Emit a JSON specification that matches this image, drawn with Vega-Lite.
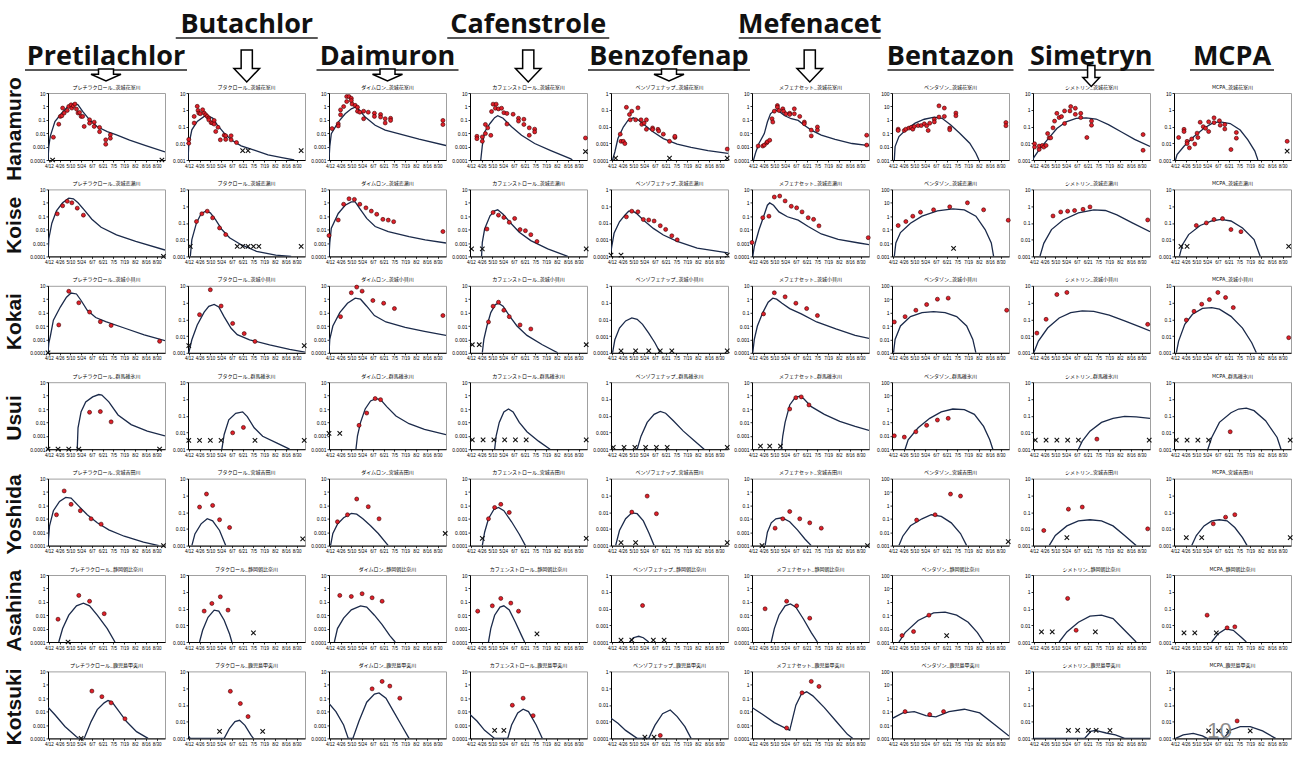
{
"$schema": "https://vega.github.io/schema/vega-lite/v6.json",
"padding": 0,
"background": "white",
"datasets": {
"heads": [{"name":"Pretilachlor","tier":"lower"},{"name":"Butachlor","tier":"upper"},{"name":"Daimuron","tier":"lower"},{"name":"Cafenstrole","tier":"upper"},{"name":"Benzofenap","tier":"lower"},{"name":"Mefenacet","tier":"upper"},{"name":"Bentazon","tier":"lower"},{"name":"Simetryn","tier":"lower"},{"name":"MCPA","tier":"lower"}],
"rivers": [{"name":"Hanamuro"},{"name":"Koise"},{"name":"Kokai"},{"name":"Usui"},{"name":"Yoshida"},{"name":"Asahina"},{"name":"Kotsuki"}],
"panels": [
{"p":11,"title":"プレチラクロール_茨城花室川"},{"p":12,"title":"プレチラクロール_茨城恋瀬川"},{"p":13,"title":"プレチラクロール_茨城小貝川"},{"p":14,"title":"プレチラクロール_群馬碓氷川"},{"p":15,"title":"プレチラクロール_宮城吉田川"},{"p":16,"title":"プレチラクロール_静岡朝比奈川"},{"p":17,"title":"プレチラクロール_鹿児島甲突川"},
{"p":21,"title":"ブタクロール_茨城花室川"},{"p":22,"title":"ブタクロール_茨城恋瀬川"},{"p":23,"title":"ブタクロール_茨城小貝川"},{"p":24,"title":"ブタクロール_群馬碓氷川"},{"p":25,"title":"ブタクロール_宮城吉田川"},{"p":26,"title":"ブタクロール_静岡朝比奈川"},{"p":27,"title":"ブタクロール_鹿児島甲突川"},
{"p":31,"title":"ダイムロン_茨城花室川"},{"p":32,"title":"ダイムロン_茨城恋瀬川"},{"p":33,"title":"ダイムロン_茨城小貝川"},{"p":34,"title":"ダイムロン_群馬碓氷川"},{"p":35,"title":"ダイムロン_宮城吉田川"},{"p":36,"title":"ダイムロン_静岡朝比奈川"},{"p":37,"title":"ダイムロン_鹿児島甲突川"},
{"p":41,"title":"カフェンストロール_茨城花室川"},{"p":42,"title":"カフェンストロール_茨城恋瀬川"},{"p":43,"title":"カフェンストロール_茨城小貝川"},{"p":44,"title":"カフェンストロール_群馬碓氷川"},{"p":45,"title":"カフェンストロール_宮城吉田川"},{"p":46,"title":"カフェンストロール_静岡朝比奈川"},{"p":47,"title":"カフェンストロール_鹿児島甲突川"},
{"p":51,"title":"ベンゾフェナップ_茨城花室川"},{"p":52,"title":"ベンゾフェナップ_茨城恋瀬川"},{"p":53,"title":"ベンゾフェナップ_茨城小貝川"},{"p":54,"title":"ベンゾフェナップ_群馬碓氷川"},{"p":55,"title":"ベンゾフェナップ_宮城吉田川"},{"p":56,"title":"ベンゾフェナップ_静岡朝比奈川"},{"p":57,"title":"ベンゾフェナップ_鹿児島甲突川"},
{"p":61,"title":"メフェナセット_茨城花室川"},{"p":62,"title":"メフェナセット_茨城恋瀬川"},{"p":63,"title":"メフェナセット_茨城小貝川"},{"p":64,"title":"メフェナセット_群馬碓氷川"},{"p":65,"title":"メフェナセット_宮城吉田川"},{"p":66,"title":"メフェナセット_静岡朝比奈川"},{"p":67,"title":"メフェナセット_鹿児島甲突川"},
{"p":71,"title":"ベンタゾン_茨城花室川"},{"p":72,"title":"ベンタゾン_茨城恋瀬川"},{"p":73,"title":"ベンタゾン_茨城小貝川"},{"p":74,"title":"ベンタゾン_群馬碓氷川"},{"p":75,"title":"ベンタゾン_宮城吉田川"},{"p":76,"title":"ベンタゾン_静岡朝比奈川"},{"p":77,"title":"ベンタゾン_鹿児島甲突川"},
{"p":81,"title":"シメトリン_茨城花室川"},{"p":82,"title":"シメトリン_茨城恋瀬川"},{"p":83,"title":"シメトリン_茨城小貝川"},{"p":84,"title":"シメトリン_群馬碓氷川"},{"p":85,"title":"シメトリン_宮城吉田川"},{"p":86,"title":"シメトリン_静岡朝比奈川"},{"p":87,"title":"シメトリン_鹿児島甲突川"},
{"p":91,"title":"MCPA_茨城花室川"},{"p":92,"title":"MCPA_茨城恋瀬川"},{"p":93,"title":"MCPA_茨城小貝川"},{"p":94,"title":"MCPA_群馬碓氷川"},{"p":95,"title":"MCPA_宮城吉田川"},{"p":96,"title":"MCPA_静岡朝比奈川"},{"p":97,"title":"MCPA_鹿児島甲突川"}
],
"obs": [
{"p":11,"t":"c","d":101,"v":0.0001},{"p":11,"t":"c","d":102,"v":0.001},{"p":11,"t":"c","d":104,"v":0.006},{"p":11,"t":"c","d":110,"v":0.075},{"p":11,"t":"c","d":119,"v":0.32},{"p":11,"t":"c","d":127,"v":1},{"p":11,"t":"c","d":136,"v":1.6},{"p":11,"t":"c","d":140,"v":1.3},{"p":11,"t":"c","d":146,"v":0.42},{"p":11,"t":"c","d":155,"v":0.1},{"p":11,"t":"c","d":165,"v":0.03},{"p":11,"t":"c","d":178,"v":0.013},{"p":11,"t":"c","d":190,"v":0.0075},{"p":11,"t":"c","d":207,"v":0.003},{"p":11,"t":"c","d":228,"v":0.0012},{"p":11,"t":"c","d":253,"v":0.0004},
{"p":11,"t":"d","d":108,"v":0.005},{"p":11,"t":"d","d":115,"v":0.047},{"p":11,"t":"d","d":117,"v":0.18},{"p":11,"t":"d","d":119,"v":0.2},{"p":11,"t":"d","d":120,"v":0.75},{"p":11,"t":"d","d":122,"v":0.32},{"p":11,"t":"d","d":126,"v":0.5},{"p":11,"t":"d","d":128,"v":1.0},{"p":11,"t":"d","d":131,"v":1.3},{"p":11,"t":"d","d":132,"v":0.75},{"p":11,"t":"d","d":134,"v":1.1},{"p":11,"t":"d","d":136,"v":1.5},{"p":11,"t":"d","d":138,"v":0.63},{"p":11,"t":"d","d":140,"v":0.32},{"p":11,"t":"d","d":142,"v":0.35},{"p":11,"t":"d","d":144,"v":0.18},{"p":11,"t":"d","d":146,"v":0.18},{"p":11,"t":"d","d":148,"v":0.032},{"p":11,"t":"d","d":155,"v":0.1},{"p":11,"t":"d","d":155,"v":0.056},{"p":11,"t":"d","d":161,"v":0.067},{"p":11,"t":"d","d":161,"v":0.032},{"p":11,"t":"d","d":168,"v":0.027},{"p":11,"t":"d","d":168,"v":0.013},{"p":11,"t":"d","d":176,"v":0.0032},{"p":11,"t":"d","d":176,"v":0.0015},{"p":11,"t":"d","d":182,"v":0.0075},{"p":11,"t":"d","d":182,"v":0.0042},
{"p":11,"t":"x","d":107,"v":0.0001},{"p":11,"t":"x","d":249,"v":0.0001},
{"p":21,"t":"c","d":101,"v":0.001},{"p":21,"t":"c","d":102,"v":0.008},{"p":21,"t":"c","d":106,"v":0.063},{"p":21,"t":"c","d":113,"v":0.2},{"p":21,"t":"c","d":122,"v":0.4},{"p":21,"t":"c","d":126,"v":0.44},{"p":21,"t":"c","d":133,"v":0.32},{"p":21,"t":"c","d":139,"v":0.126},{"p":21,"t":"c","d":148,"v":0.04},{"p":21,"t":"c","d":157,"v":0.016},{"p":21,"t":"c","d":170,"v":0.007},{"p":21,"t":"c","d":188,"v":0.0037},{"p":21,"t":"c","d":205,"v":0.002},{"p":21,"t":"c","d":223,"v":0.0014},{"p":21,"t":"c","d":239,"v":0.001},
{"p":21,"t":"d","d":102,"v":0.017},{"p":21,"t":"d","d":102,"v":0.01},{"p":21,"t":"d","d":109,"v":0.4},{"p":21,"t":"d","d":109,"v":0.16},{"p":21,"t":"d","d":113,"v":1.6},{"p":21,"t":"d","d":114,"v":0.91},{"p":21,"t":"d","d":115,"v":0.63},{"p":21,"t":"d","d":117,"v":0.58},{"p":21,"t":"d","d":120,"v":1.0},{"p":21,"t":"d","d":122,"v":0.63},{"p":21,"t":"d","d":124,"v":0.5},{"p":21,"t":"d","d":126,"v":0.4},{"p":21,"t":"d","d":128,"v":0.32},{"p":21,"t":"d","d":128,"v":0.25},{"p":21,"t":"d","d":131,"v":0.17},{"p":21,"t":"d","d":133,"v":0.16},{"p":21,"t":"d","d":135,"v":0.23},{"p":21,"t":"d","d":135,"v":0.14},{"p":21,"t":"d","d":137,"v":0.05},{"p":21,"t":"d","d":140,"v":0.09},{"p":21,"t":"d","d":143,"v":0.016},{"p":21,"t":"d","d":148,"v":0.03},{"p":21,"t":"d","d":150,"v":0.028},{"p":21,"t":"d","d":150,"v":0.017},{"p":21,"t":"d","d":157,"v":0.028},{"p":21,"t":"d","d":157,"v":0.016},{"p":21,"t":"d","d":164,"v":0.011},
{"p":21,"t":"x","d":172,"v":0.0036},{"p":21,"t":"x","d":179,"v":0.0036},{"p":21,"t":"x","d":248,"v":0.0036},
{"p":31,"t":"c","d":101,"v":0.0001},{"p":31,"t":"c","d":102,"v":0.001},{"p":31,"t":"c","d":104,"v":0.0093},{"p":31,"t":"c","d":113,"v":0.068},{"p":31,"t":"c","d":122,"v":0.28},{"p":31,"t":"c","d":130,"v":0.66},{"p":31,"t":"c","d":135,"v":0.87},{"p":31,"t":"c","d":139,"v":0.66},{"p":31,"t":"c","d":148,"v":0.16},{"p":31,"t":"c","d":161,"v":0.039},{"p":31,"t":"c","d":174,"v":0.017},{"p":31,"t":"c","d":196,"v":0.0078},{"p":31,"t":"c","d":218,"v":0.0036},{"p":31,"t":"c","d":253,"v":0.0012},
{"p":31,"t":"d","d":105,"v":0.022},{"p":31,"t":"d","d":113,"v":0.05},{"p":31,"t":"d","d":113,"v":0.035},{"p":31,"t":"d","d":116,"v":0.24},{"p":31,"t":"d","d":116,"v":0.55},{"p":31,"t":"d","d":120,"v":0.97},{"p":31,"t":"d","d":124,"v":5.4},{"p":31,"t":"d","d":124,"v":2.3},{"p":31,"t":"d","d":127,"v":5.4},{"p":31,"t":"d","d":130,"v":4},{"p":31,"t":"d","d":130,"v":2.7},{"p":31,"t":"d","d":131,"v":1.5},{"p":31,"t":"d","d":135,"v":1.2},{"p":31,"t":"d","d":138,"v":0.87},{"p":31,"t":"d","d":138,"v":0.44},{"p":31,"t":"d","d":141,"v":0.37},{"p":31,"t":"d","d":146,"v":0.12},{"p":31,"t":"d","d":146,"v":0.44},{"p":31,"t":"d","d":152,"v":0.37},{"p":31,"t":"d","d":160,"v":0.31},{"p":31,"t":"d","d":160,"v":0.18},{"p":31,"t":"d","d":168,"v":0.25},{"p":31,"t":"d","d":168,"v":0.16},{"p":31,"t":"d","d":174,"v":0.12},{"p":31,"t":"d","d":174,"v":0.058},{"p":31,"t":"d","d":181,"v":0.13},{"p":31,"t":"d","d":181,"v":0.09},{"p":31,"t":"d","d":249,"v":0.09},{"p":31,"t":"d","d":249,"v":0.044},
{"p":41,"t":"c","d":115,"v":0.0001},{"p":41,"t":"c","d":117,"v":0.0012},{"p":41,"t":"c","d":120,"v":0.0125},{"p":41,"t":"c","d":127,"v":0.053},{"p":41,"t":"c","d":133,"v":0.145},{"p":41,"t":"c","d":137,"v":0.2},{"p":41,"t":"c","d":144,"v":0.13},{"p":41,"t":"c","d":155,"v":0.03},{"p":41,"t":"c","d":168,"v":0.0071},{"p":41,"t":"c","d":185,"v":0.0017},{"p":41,"t":"c","d":206,"v":0.0005},{"p":41,"t":"c","d":232,"v":0.00012},{"p":41,"t":"c","d":234,"v":0.0001},
{"p":41,"t":"d","d":110,"v":0.0059},{"p":41,"t":"d","d":110,"v":0.0039},{"p":41,"t":"d","d":117,"v":0.0053},{"p":41,"t":"d","d":117,"v":0.0025},{"p":41,"t":"d","d":121,"v":0.0093},{"p":41,"t":"d","d":121,"v":0.045},{"p":41,"t":"d","d":124,"v":0.025},{"p":41,"t":"d","d":128,"v":0.0069},{"p":41,"t":"d","d":129,"v":0.41},{"p":41,"t":"d","d":131,"v":1.47},{"p":41,"t":"d","d":134,"v":0.73},{"p":41,"t":"d","d":135,"v":1.47},{"p":41,"t":"d","d":138,"v":0.65},{"p":41,"t":"d","d":142,"v":0.73},{"p":41,"t":"d","d":145,"v":0.34},{"p":41,"t":"d","d":149,"v":0.3},{"p":41,"t":"d","d":149,"v":0.048},{"p":41,"t":"d","d":157,"v":0.26},{"p":41,"t":"d","d":164,"v":0.13},{"p":41,"t":"d","d":164,"v":0.08},{"p":41,"t":"d","d":171,"v":0.11},{"p":41,"t":"d","d":171,"v":0.045},{"p":41,"t":"d","d":178,"v":0.025},{"p":41,"t":"d","d":178,"v":0.007},{"p":41,"t":"d","d":185,"v":0.02},{"p":41,"t":"d","d":185,"v":0.0125},{"p":41,"t":"d","d":251,"v":0.0044},
{"p":41,"t":"x","d":251,"v":0.00043},
{"p":51,"t":"c","d":103,"v":0.0001},{"p":51,"t":"c","d":106,"v":0.0003},{"p":51,"t":"c","d":110,"v":0.0019},{"p":51,"t":"c","d":117,"v":0.0093},{"p":51,"t":"c","d":123,"v":0.023},{"p":51,"t":"c","d":130,"v":0.033},{"p":51,"t":"c","d":136,"v":0.025},{"p":51,"t":"c","d":145,"v":0.0117},{"p":51,"t":"c","d":156,"v":0.0047},{"p":51,"t":"c","d":169,"v":0.0019},{"p":51,"t":"c","d":187,"v":0.00088},{"p":51,"t":"c","d":205,"v":0.00056},{"p":51,"t":"c","d":227,"v":0.00036},{"p":51,"t":"c","d":253,"v":0.00025},
{"p":51,"t":"d","d":113,"v":0.0035},{"p":51,"t":"d","d":114,"v":0.0013},{"p":51,"t":"d","d":117,"v":0.0013},{"p":51,"t":"d","d":119,"v":0.00095},{"p":51,"t":"d","d":121,"v":0.14},{"p":51,"t":"d","d":125,"v":0.052},{"p":51,"t":"d","d":126,"v":0.025},{"p":51,"t":"d","d":128,"v":0.082},{"p":51,"t":"d","d":133,"v":0.025},{"p":51,"t":"d","d":136,"v":0.13},{"p":51,"t":"d","d":140,"v":0.025},{"p":51,"t":"d","d":141,"v":0.0134},{"p":51,"t":"d","d":144,"v":0.016},{"p":51,"t":"d","d":147,"v":0.025},{"p":51,"t":"d","d":147,"v":0.0068},{"p":51,"t":"d","d":155,"v":0.0082},{"p":51,"t":"d","d":155,"v":0.0066},{"p":51,"t":"d","d":162,"v":0.0068},{"p":51,"t":"d","d":163,"v":0.0054},{"p":51,"t":"d","d":169,"v":0.0035},{"p":51,"t":"d","d":177,"v":0.0013},{"p":51,"t":"d","d":184,"v":0.0022},{"p":51,"t":"d","d":184,"v":0.0026},{"p":51,"t":"d","d":252,"v":0.00045},
{"p":51,"t":"x","d":107,"v":0.00013},{"p":51,"t":"x","d":177,"v":0.00013},{"p":51,"t":"x","d":252,"v":0.00013},
{"p":61,"t":"c","d":103,"v":0.0001},{"p":61,"t":"c","d":106,"v":0.0004},{"p":61,"t":"c","d":110,"v":0.0017},{"p":61,"t":"c","d":117,"v":0.0093},{"p":61,"t":"c","d":121,"v":0.068},{"p":61,"t":"c","d":125,"v":0.28},{"p":61,"t":"c","d":131,"v":0.55},{"p":61,"t":"c","d":136,"v":0.44},{"p":61,"t":"c","d":143,"v":0.21},{"p":61,"t":"c","d":152,"v":0.12},{"p":61,"t":"c","d":161,"v":0.09},{"p":61,"t":"c","d":169,"v":0.039},{"p":61,"t":"c","d":178,"v":0.017},{"p":61,"t":"c","d":191,"v":0.0071},{"p":61,"t":"c","d":209,"v":0.0034},{"p":61,"t":"c","d":231,"v":0.0017},{"p":61,"t":"c","d":253,"v":0.0012},
{"p":61,"t":"d","d":109,"v":0.0011},{"p":61,"t":"d","d":115,"v":0.0011},{"p":61,"t":"d","d":117,"v":0.0013},{"p":61,"t":"d","d":120,"v":0.0019},{"p":61,"t":"d","d":121,"v":0.0023},{"p":61,"t":"d","d":124,"v":0.003},{"p":61,"t":"d","d":127,"v":0.12},{"p":61,"t":"d","d":128,"v":0.068},{"p":61,"t":"d","d":130,"v":0.44},{"p":61,"t":"d","d":134,"v":1.16},{"p":61,"t":"d","d":134,"v":0.87},{"p":61,"t":"d","d":136,"v":0.5},{"p":61,"t":"d","d":141,"v":0.66},{"p":61,"t":"d","d":142,"v":0.44},{"p":61,"t":"d","d":145,"v":0.28},{"p":61,"t":"d","d":150,"v":0.31},{"p":61,"t":"d","d":150,"v":0.25},{"p":61,"t":"d","d":156,"v":0.66},{"p":61,"t":"d","d":156,"v":0.28},{"p":61,"t":"d","d":163,"v":0.18},{"p":61,"t":"d","d":169,"v":0.068},{"p":61,"t":"d","d":169,"v":0.051},{"p":61,"t":"d","d":178,"v":0.017},{"p":61,"t":"d","d":178,"v":0.0063},{"p":61,"t":"d","d":186,"v":0.029},{"p":61,"t":"d","d":186,"v":0.017},{"p":61,"t":"d","d":250,"v":0.0071},{"p":61,"t":"d","d":250,"v":0.0013},
{"p":71,"t":"c","d":104,"v":0.001},{"p":71,"t":"c","d":105,"v":0.01},{"p":71,"t":"c","d":110,"v":0.056},{"p":71,"t":"c","d":119,"v":0.18},{"p":71,"t":"c","d":131,"v":0.56},{"p":71,"t":"c","d":143,"v":1.1},{"p":71,"t":"c","d":156,"v":1.6},{"p":71,"t":"c","d":166,"v":1.3},{"p":71,"t":"c","d":177,"v":0.42},{"p":71,"t":"c","d":189,"v":0.1},{"p":71,"t":"c","d":202,"v":0.018},{"p":71,"t":"c","d":210,"v":0.0032},{"p":71,"t":"c","d":214,"v":0.001},
{"p":71,"t":"d","d":109,"v":0.2},{"p":71,"t":"d","d":109,"v":0.16},{"p":71,"t":"d","d":117,"v":0.16},{"p":71,"t":"d","d":119,"v":0.2},{"p":71,"t":"d","d":123,"v":0.24},{"p":71,"t":"d","d":126,"v":0.27},{"p":71,"t":"d","d":128,"v":0.2},{"p":71,"t":"d","d":130,"v":0.32},{"p":71,"t":"d","d":135,"v":0.37},{"p":71,"t":"d","d":139,"v":0.37},{"p":71,"t":"d","d":143,"v":0.5},{"p":71,"t":"d","d":146,"v":0.36},{"p":71,"t":"d","d":148,"v":0.16},{"p":71,"t":"d","d":150,"v":0.56},{"p":71,"t":"d","d":156,"v":1.1},{"p":71,"t":"d","d":156,"v":0.7},{"p":71,"t":"d","d":162,"v":11},{"p":71,"t":"d","d":162,"v":1.6},{"p":71,"t":"d","d":169,"v":7.5},{"p":71,"t":"d","d":169,"v":1.8},{"p":71,"t":"d","d":176,"v":0.24},{"p":71,"t":"d","d":176,"v":0.18},{"p":71,"t":"d","d":184,"v":3.2},{"p":71,"t":"d","d":184,"v":2},{"p":71,"t":"d","d":249,"v":0.63},{"p":71,"t":"d","d":249,"v":0.36},
{"p":81,"t":"c","d":101,"v":0.001},{"p":81,"t":"c","d":102,"v":0.0014},{"p":81,"t":"c","d":110,"v":0.0047},{"p":81,"t":"c","d":119,"v":0.015},{"p":81,"t":"c","d":132,"v":0.076},{"p":81,"t":"c","d":144,"v":0.19},{"p":81,"t":"c","d":157,"v":0.31},{"p":81,"t":"c","d":170,"v":0.33},{"p":81,"t":"c","d":183,"v":0.28},{"p":81,"t":"c","d":199,"v":0.13},{"p":81,"t":"c","d":216,"v":0.047},{"p":81,"t":"c","d":233,"v":0.017},{"p":81,"t":"c","d":253,"v":0.0065},
{"p":81,"t":"d","d":103,"v":0.0093},{"p":81,"t":"d","d":103,"v":0.0059},{"p":81,"t":"d","d":109,"v":0.0043},{"p":81,"t":"d","d":109,"v":0.0068},{"p":81,"t":"d","d":113,"v":0.0074},{"p":81,"t":"d","d":115,"v":0.0059},{"p":81,"t":"d","d":118,"v":0.0074},{"p":81,"t":"d","d":120,"v":0.038},{"p":81,"t":"d","d":122,"v":0.021},{"p":81,"t":"d","d":124,"v":0.021},{"p":81,"t":"d","d":127,"v":0.083},{"p":81,"t":"d","d":129,"v":0.21},{"p":81,"t":"d","d":132,"v":0.61},{"p":81,"t":"d","d":135,"v":0.34},{"p":81,"t":"d","d":138,"v":0.39},{"p":81,"t":"d","d":142,"v":0.15},{"p":81,"t":"d","d":142,"v":0.85},{"p":81,"t":"d","d":149,"v":0.85},{"p":81,"t":"d","d":150,"v":1.55},{"p":81,"t":"d","d":156,"v":1.23},{"p":81,"t":"d","d":156,"v":0.53},{"p":81,"t":"d","d":163,"v":0.61},{"p":81,"t":"d","d":163,"v":0.34},{"p":81,"t":"d","d":171,"v":0.022},{"p":81,"t":"d","d":177,"v":0.21},{"p":81,"t":"d","d":177,"v":0.12},{"p":81,"t":"d","d":244,"v":0.033},{"p":81,"t":"d","d":244,"v":0.0038},
{"p":91,"t":"c","d":103,"v":0.001},{"p":91,"t":"c","d":105,"v":0.0021},{"p":91,"t":"c","d":114,"v":0.0066},{"p":91,"t":"c","d":127,"v":0.025},{"p":91,"t":"c","d":140,"v":0.078},{"p":91,"t":"c","d":152,"v":0.17},{"p":91,"t":"c","d":161,"v":0.19},{"p":91,"t":"c","d":174,"v":0.15},{"p":91,"t":"c","d":187,"v":0.062},{"p":91,"t":"c","d":197,"v":0.016},{"p":91,"t":"c","d":206,"v":0.0034},{"p":91,"t":"c","d":210,"v":0.001},
{"p":91,"t":"d","d":107,"v":0.022},{"p":91,"t":"d","d":114,"v":0.068},{"p":91,"t":"d","d":114,"v":0.05},{"p":91,"t":"d","d":118,"v":0.013},{"p":91,"t":"d","d":118,"v":0.0095},{"p":91,"t":"d","d":121,"v":0.0053},{"p":91,"t":"d","d":124,"v":0.018},{"p":91,"t":"d","d":128,"v":0.009},{"p":91,"t":"d","d":131,"v":0.04},{"p":91,"t":"d","d":132,"v":0.022},{"p":91,"t":"d","d":135,"v":0.18},{"p":91,"t":"d","d":139,"v":0.098},{"p":91,"t":"d","d":142,"v":0.078},{"p":91,"t":"d","d":146,"v":0.05},{"p":91,"t":"d","d":146,"v":0.19},{"p":91,"t":"d","d":153,"v":0.33},{"p":91,"t":"d","d":153,"v":0.17},{"p":91,"t":"d","d":160,"v":0.22},{"p":91,"t":"d","d":161,"v":0.12},{"p":91,"t":"d","d":167,"v":0.13},{"p":91,"t":"d","d":167,"v":0.071},{"p":91,"t":"d","d":175,"v":0.0042},{"p":91,"t":"d","d":182,"v":0.044},{"p":91,"t":"d","d":182,"v":0.02},{"p":91,"t":"d","d":248,"v":0.013},
{"p":91,"t":"x","d":248,"v":0.0034},
{"p":12,"t":"c","d":101,"v":0.0001},{"p":12,"t":"c","d":102,"v":0.002},{"p":12,"t":"c","d":106,"v":0.03},{"p":12,"t":"c","d":112,"v":0.25},{"p":12,"t":"c","d":120,"v":1.0},{"p":12,"t":"c","d":128,"v":2.2},{"p":12,"t":"c","d":134,"v":2.0},{"p":12,"t":"c","d":140,"v":1.0},{"p":12,"t":"c","d":148,"v":0.3},{"p":12,"t":"c","d":158,"v":0.06},{"p":12,"t":"c","d":170,"v":0.015},{"p":12,"t":"c","d":190,"v":0.004},{"p":12,"t":"c","d":215,"v":0.0013},{"p":12,"t":"c","d":253,"v":0.0003},
{"p":12,"t":"d","d":113,"v":0.15},{"p":12,"t":"d","d":120,"v":0.6},{"p":12,"t":"d","d":126,"v":1.3},{"p":12,"t":"d","d":132,"v":1.0},{"p":12,"t":"d","d":139,"v":0.4},{"p":12,"t":"d","d":147,"v":0.12},
{"p":12,"t":"x","d":251,"v":0.0001},
{"p":22,"t":"c","d":104,"v":0.001},{"p":22,"t":"c","d":106,"v":0.01},{"p":22,"t":"c","d":112,"v":0.1},{"p":22,"t":"c","d":118,"v":0.35},{"p":22,"t":"c","d":124,"v":0.5},{"p":22,"t":"c","d":130,"v":0.4},{"p":22,"t":"c","d":137,"v":0.15},{"p":22,"t":"c","d":145,"v":0.04},{"p":22,"t":"c","d":155,"v":0.013},{"p":22,"t":"c","d":170,"v":0.005},{"p":22,"t":"c","d":190,"v":0.002},{"p":22,"t":"c","d":215,"v":0.0012},{"p":22,"t":"c","d":235,"v":0.001},
{"p":22,"t":"d","d":112,"v":0.12},{"p":22,"t":"d","d":119,"v":0.35},{"p":22,"t":"d","d":126,"v":0.5},{"p":22,"t":"d","d":133,"v":0.2},{"p":22,"t":"d","d":142,"v":0.05},{"p":22,"t":"d","d":150,"v":0.02},
{"p":22,"t":"x","d":104,"v":0.004},{"p":22,"t":"x","d":165,"v":0.004},{"p":22,"t":"x","d":172,"v":0.004},{"p":22,"t":"x","d":179,"v":0.004},{"p":22,"t":"x","d":186,"v":0.004},{"p":22,"t":"x","d":193,"v":0.004},{"p":22,"t":"x","d":248,"v":0.004},
{"p":32,"t":"c","d":101,"v":0.0001},{"p":32,"t":"c","d":102,"v":0.001},{"p":32,"t":"c","d":104,"v":0.0125},{"p":32,"t":"c","d":113,"v":0.16},{"p":32,"t":"c","d":122,"v":0.66},{"p":32,"t":"c","d":130,"v":1.16},{"p":32,"t":"c","d":135,"v":1.16},{"p":32,"t":"c","d":141,"v":0.37},{"p":32,"t":"c","d":150,"v":0.068},{"p":32,"t":"c","d":161,"v":0.017},{"p":32,"t":"c","d":178,"v":0.0071},{"p":32,"t":"c","d":205,"v":0.003},{"p":32,"t":"c","d":226,"v":0.0017},{"p":32,"t":"c","d":253,"v":0.001},
{"p":32,"t":"d","d":101,"v":0.0036},{"p":32,"t":"d","d":113,"v":0.052},{"p":32,"t":"d","d":120,"v":0.78},{"p":32,"t":"d","d":127,"v":2.0},{"p":32,"t":"d","d":134,"v":1.8},{"p":32,"t":"d","d":141,"v":0.78},{"p":32,"t":"d","d":149,"v":0.42},{"p":32,"t":"d","d":156,"v":0.24},{"p":32,"t":"d","d":163,"v":0.14},{"p":32,"t":"d","d":171,"v":0.058},{"p":32,"t":"d","d":178,"v":0.051},{"p":32,"t":"d","d":185,"v":0.039},{"p":32,"t":"d","d":249,"v":0.0071},
{"p":42,"t":"c","d":116,"v":0.0001},{"p":42,"t":"c","d":117,"v":0.0011},{"p":42,"t":"c","d":120,"v":0.011},{"p":42,"t":"c","d":127,"v":0.107},{"p":42,"t":"c","d":133,"v":0.25},{"p":42,"t":"c","d":137,"v":0.3},{"p":42,"t":"c","d":144,"v":0.14},{"p":42,"t":"c","d":155,"v":0.026},{"p":42,"t":"c","d":165,"v":0.0063},{"p":42,"t":"c","d":180,"v":0.0015},{"p":42,"t":"c","d":202,"v":0.00037},{"p":42,"t":"c","d":228,"v":0.0001},
{"p":42,"t":"d","d":123,"v":0.011},{"p":42,"t":"d","d":131,"v":0.19},{"p":42,"t":"d","d":138,"v":0.12},{"p":42,"t":"d","d":145,"v":0.081},{"p":42,"t":"d","d":152,"v":0.035},{"p":42,"t":"d","d":159,"v":0.068},{"p":42,"t":"d","d":166,"v":0.01},{"p":42,"t":"d","d":173,"v":0.0083},{"p":42,"t":"d","d":180,"v":0.0042},{"p":42,"t":"d","d":188,"v":0.0013},
{"p":42,"t":"x","d":103,"v":0.00037},{"p":42,"t":"x","d":117,"v":0.00037},{"p":42,"t":"x","d":252,"v":0.00037},
{"p":52,"t":"c","d":101,"v":0.0002},{"p":52,"t":"c","d":102,"v":0.00039},{"p":52,"t":"c","d":105,"v":0.0024},{"p":52,"t":"c","d":112,"v":0.0117},{"p":52,"t":"c","d":119,"v":0.029},{"p":52,"t":"c","d":124,"v":0.05},{"p":52,"t":"c","d":129,"v":0.052},{"p":52,"t":"c","d":134,"v":0.037},{"p":52,"t":"c","d":143,"v":0.015},{"p":52,"t":"c","d":156,"v":0.0047},{"p":52,"t":"c","d":169,"v":0.0019},{"p":52,"t":"c","d":187,"v":0.00078},{"p":52,"t":"c","d":213,"v":0.00031},{"p":52,"t":"c","d":253,"v":0.00016},
{"p":52,"t":"d","d":121,"v":0.023},{"p":52,"t":"d","d":128,"v":0.05},{"p":52,"t":"d","d":136,"v":0.046},{"p":52,"t":"d","d":143,"v":0.016},{"p":52,"t":"d","d":150,"v":0.015},{"p":52,"t":"d","d":157,"v":0.013},{"p":52,"t":"d","d":165,"v":0.0068},{"p":52,"t":"d","d":172,"v":0.0041},{"p":52,"t":"d","d":180,"v":0.0017},{"p":52,"t":"d","d":187,"v":0.00097},
{"p":52,"t":"x","d":101,"v":0.00012},{"p":52,"t":"x","d":114,"v":0.00012},{"p":52,"t":"x","d":252,"v":0.00012},
{"p":62,"t":"c","d":102,"v":0.0001},{"p":62,"t":"c","d":104,"v":0.00055},{"p":62,"t":"c","d":110,"v":0.0093},{"p":62,"t":"c","d":116,"v":0.091},{"p":62,"t":"c","d":121,"v":0.66},{"p":62,"t":"c","d":124,"v":0.98},{"p":62,"t":"c","d":129,"v":0.66},{"p":62,"t":"c","d":136,"v":0.21},{"p":62,"t":"c","d":147,"v":0.091},{"p":62,"t":"c","d":161,"v":0.051},{"p":62,"t":"c","d":174,"v":0.017},{"p":62,"t":"c","d":191,"v":0.0047},{"p":62,"t":"c","d":213,"v":0.0019},{"p":62,"t":"c","d":240,"v":0.001},{"p":62,"t":"c","d":253,"v":0.00075},
{"p":62,"t":"d","d":101,"v":0.0011},{"p":62,"t":"d","d":115,"v":0.077},{"p":62,"t":"d","d":123,"v":0.1},{"p":62,"t":"d","d":130,"v":2.7},{"p":62,"t":"d","d":137,"v":3.2},{"p":62,"t":"d","d":144,"v":1.38},{"p":62,"t":"d","d":152,"v":0.55},{"p":62,"t":"d","d":159,"v":0.42},{"p":62,"t":"d","d":166,"v":0.21},{"p":62,"t":"d","d":174,"v":0.077},{"p":62,"t":"d","d":181,"v":0.058},{"p":62,"t":"d","d":188,"v":0.019},{"p":62,"t":"d","d":252,"v":0.0025},
{"p":72,"t":"c","d":104,"v":0.001},{"p":72,"t":"c","d":106,"v":0.01},{"p":72,"t":"c","d":112,"v":0.06},{"p":72,"t":"c","d":125,"v":0.3},{"p":72,"t":"c","d":140,"v":1},{"p":72,"t":"c","d":160,"v":2.5},{"p":72,"t":"c","d":180,"v":3.5},{"p":72,"t":"c","d":195,"v":3},{"p":72,"t":"c","d":210,"v":1},{"p":72,"t":"c","d":222,"v":0.1},{"p":72,"t":"c","d":230,"v":0.01},{"p":72,"t":"c","d":233,"v":0.001},
{"p":72,"t":"d","d":109,"v":0.2},{"p":72,"t":"d","d":119,"v":0.4},{"p":72,"t":"d","d":128,"v":1},{"p":72,"t":"d","d":138,"v":2},{"p":72,"t":"d","d":155,"v":3},{"p":72,"t":"d","d":176,"v":5},{"p":72,"t":"d","d":199,"v":10},{"p":72,"t":"d","d":220,"v":3},{"p":72,"t":"d","d":252,"v":0.5},
{"p":72,"t":"x","d":181,"v":0.004},
{"p":82,"t":"c","d":110,"v":0.001},{"p":82,"t":"c","d":115,"v":0.006},{"p":82,"t":"c","d":125,"v":0.04},{"p":82,"t":"c","d":140,"v":0.15},{"p":82,"t":"c","d":160,"v":0.4},{"p":82,"t":"c","d":180,"v":0.6},{"p":82,"t":"c","d":195,"v":0.55},{"p":82,"t":"c","d":210,"v":0.3},{"p":82,"t":"c","d":230,"v":0.1},{"p":82,"t":"c","d":253,"v":0.03},
{"p":82,"t":"d","d":127,"v":0.26},{"p":82,"t":"d","d":137,"v":0.45},{"p":82,"t":"d","d":146,"v":0.5},{"p":82,"t":"d","d":155,"v":0.55},{"p":82,"t":"d","d":166,"v":0.65},{"p":82,"t":"d","d":175,"v":0.9},{"p":82,"t":"d","d":250,"v":0.15},
{"p":92,"t":"c","d":108,"v":0.001},{"p":92,"t":"c","d":112,"v":0.005},{"p":92,"t":"c","d":120,"v":0.02},{"p":92,"t":"c","d":135,"v":0.07},{"p":92,"t":"c","d":150,"v":0.13},{"p":92,"t":"c","d":162,"v":0.16},{"p":92,"t":"c","d":175,"v":0.13},{"p":92,"t":"c","d":190,"v":0.05},{"p":92,"t":"c","d":205,"v":0.01},{"p":92,"t":"c","d":213,"v":0.001},
{"p":92,"t":"d","d":130,"v":0.07},{"p":92,"t":"d","d":143,"v":0.1},{"p":92,"t":"d","d":153,"v":0.16},{"p":92,"t":"d","d":164,"v":0.18},{"p":92,"t":"d","d":175,"v":0.04},{"p":92,"t":"d","d":188,"v":0.03},
{"p":92,"t":"x","d":110,"v":0.004},{"p":92,"t":"x","d":118,"v":0.004},{"p":92,"t":"x","d":250,"v":0.004},
{"p":13,"t":"c","d":101,"v":0.0001},{"p":13,"t":"c","d":102,"v":0.0005},{"p":13,"t":"c","d":104,"v":0.0017},{"p":13,"t":"c","d":108,"v":0.027},{"p":13,"t":"c","d":117,"v":0.26},{"p":13,"t":"c","d":125,"v":1.4},{"p":13,"t":"c","d":131,"v":2.9},{"p":13,"t":"c","d":138,"v":2.45},{"p":13,"t":"c","d":144,"v":0.8},{"p":13,"t":"c","d":152,"v":0.15},{"p":13,"t":"c","d":163,"v":0.043},{"p":13,"t":"c","d":176,"v":0.021},{"p":13,"t":"c","d":201,"v":0.0068},{"p":13,"t":"c","d":226,"v":0.0022},{"p":13,"t":"c","d":253,"v":0.0008},
{"p":13,"t":"d","d":115,"v":0.012},{"p":13,"t":"d","d":128,"v":3.9},{"p":13,"t":"d","d":141,"v":0.54},{"p":13,"t":"d","d":155,"v":0.11},{"p":13,"t":"d","d":169,"v":0.021},{"p":13,"t":"d","d":183,"v":0.011},{"p":13,"t":"d","d":246,"v":0.00072},
{"p":13,"t":"x","d":101,"v":0.0001},
{"p":23,"t":"c","d":102,"v":0.001},{"p":23,"t":"c","d":106,"v":0.006},{"p":23,"t":"c","d":113,"v":0.046},{"p":23,"t":"c","d":122,"v":0.27},{"p":23,"t":"c","d":128,"v":0.59},{"p":23,"t":"c","d":135,"v":0.77},{"p":23,"t":"c","d":141,"v":0.54},{"p":23,"t":"c","d":148,"v":0.14},{"p":23,"t":"c","d":157,"v":0.029},{"p":23,"t":"c","d":165,"v":0.012},{"p":23,"t":"c","d":181,"v":0.006},{"p":23,"t":"c","d":207,"v":0.003},{"p":23,"t":"c","d":233,"v":0.0016},{"p":23,"t":"c","d":253,"v":0.0011},
{"p":23,"t":"d","d":116,"v":0.19},{"p":23,"t":"d","d":130,"v":5.8},{"p":23,"t":"d","d":144,"v":0.62},{"p":23,"t":"d","d":159,"v":0.057},{"p":23,"t":"d","d":174,"v":0.014},{"p":23,"t":"d","d":188,"v":0.0048},
{"p":23,"t":"x","d":102,"v":0.0027},{"p":23,"t":"x","d":252,"v":0.0027},
{"p":33,"t":"c","d":101,"v":0.0001},{"p":33,"t":"c","d":102,"v":0.001},{"p":33,"t":"c","d":106,"v":0.01},{"p":33,"t":"c","d":115,"v":0.1},{"p":33,"t":"c","d":125,"v":0.5},{"p":33,"t":"c","d":135,"v":1.2},{"p":33,"t":"c","d":142,"v":1.0},{"p":33,"t":"c","d":150,"v":0.3},{"p":33,"t":"c","d":160,"v":0.06},{"p":33,"t":"c","d":175,"v":0.02},{"p":33,"t":"c","d":200,"v":0.008},{"p":33,"t":"c","d":225,"v":0.004},{"p":33,"t":"c","d":253,"v":0.002},
{"p":33,"t":"d","d":116,"v":0.05},{"p":33,"t":"d","d":130,"v":3},{"p":33,"t":"d","d":137,"v":8},{"p":33,"t":"d","d":144,"v":4},{"p":33,"t":"d","d":158,"v":0.8},{"p":33,"t":"d","d":172,"v":0.5},{"p":33,"t":"d","d":186,"v":0.2},{"p":33,"t":"d","d":249,"v":0.06},
{"p":43,"t":"c","d":117,"v":0.0001},{"p":43,"t":"c","d":119,"v":0.001},{"p":43,"t":"c","d":123,"v":0.01},{"p":43,"t":"c","d":128,"v":0.1},{"p":43,"t":"c","d":134,"v":0.4},{"p":43,"t":"c","d":138,"v":0.5},{"p":43,"t":"c","d":144,"v":0.3},{"p":43,"t":"c","d":152,"v":0.06},{"p":43,"t":"c","d":162,"v":0.01},{"p":43,"t":"c","d":175,"v":0.002},{"p":43,"t":"c","d":195,"v":0.0004},{"p":43,"t":"c","d":215,"v":0.0001},
{"p":43,"t":"d","d":125,"v":0.02},{"p":43,"t":"d","d":131,"v":0.3},{"p":43,"t":"d","d":138,"v":0.6},{"p":43,"t":"d","d":145,"v":0.15},{"p":43,"t":"d","d":152,"v":0.05},{"p":43,"t":"d","d":166,"v":0.012},{"p":43,"t":"d","d":180,"v":0.006},
{"p":43,"t":"x","d":104,"v":0.0004},{"p":43,"t":"x","d":113,"v":0.0004},{"p":43,"t":"x","d":252,"v":0.0004},
{"p":53,"t":"c","d":103,"v":0.0001},{"p":53,"t":"c","d":106,"v":0.0006},{"p":53,"t":"c","d":112,"v":0.003},{"p":53,"t":"c","d":120,"v":0.008},{"p":53,"t":"c","d":128,"v":0.012},{"p":53,"t":"c","d":135,"v":0.01},{"p":53,"t":"c","d":142,"v":0.005},{"p":53,"t":"c","d":150,"v":0.0015},{"p":53,"t":"c","d":158,"v":0.0004},{"p":53,"t":"c","d":165,"v":0.0001},
{"p":53,"t":"x","d":114,"v":0.00013},{"p":53,"t":"x","d":133,"v":0.00013},{"p":53,"t":"x","d":150,"v":0.00013},{"p":53,"t":"x","d":165,"v":0.00013},{"p":53,"t":"x","d":180,"v":0.00013},{"p":53,"t":"x","d":252,"v":0.00013},
{"p":63,"t":"c","d":102,"v":0.0001},{"p":63,"t":"c","d":104,"v":0.001},{"p":63,"t":"c","d":108,"v":0.01},{"p":63,"t":"c","d":115,"v":0.1},{"p":63,"t":"c","d":122,"v":0.6},{"p":63,"t":"c","d":128,"v":1.2},{"p":63,"t":"c","d":133,"v":1.0},{"p":63,"t":"c","d":140,"v":0.5},{"p":63,"t":"c","d":150,"v":0.2},{"p":63,"t":"c","d":165,"v":0.08},{"p":63,"t":"c","d":185,"v":0.02},{"p":63,"t":"c","d":210,"v":0.006},{"p":63,"t":"c","d":235,"v":0.002},{"p":63,"t":"c","d":253,"v":0.0012},
{"p":63,"t":"d","d":116,"v":0.08},{"p":63,"t":"d","d":130,"v":3},{"p":63,"t":"d","d":144,"v":1.5},{"p":63,"t":"d","d":158,"v":0.5},{"p":63,"t":"d","d":172,"v":0.2},{"p":63,"t":"d","d":186,"v":0.06},
{"p":73,"t":"c","d":103,"v":0.001},{"p":73,"t":"c","d":105,"v":0.01},{"p":73,"t":"c","d":112,"v":0.1},{"p":73,"t":"c","d":125,"v":0.5},{"p":73,"t":"c","d":140,"v":1.0},{"p":73,"t":"c","d":155,"v":1.2},{"p":73,"t":"c","d":170,"v":1.0},{"p":73,"t":"c","d":185,"v":0.5},{"p":73,"t":"c","d":198,"v":0.1},{"p":73,"t":"c","d":206,"v":0.01},{"p":73,"t":"c","d":210,"v":0.001},
{"p":73,"t":"d","d":104,"v":0.2},{"p":73,"t":"d","d":118,"v":0.5},{"p":73,"t":"d","d":132,"v":1.5},{"p":73,"t":"d","d":146,"v":4},{"p":73,"t":"d","d":160,"v":10},{"p":73,"t":"d","d":174,"v":12},{"p":73,"t":"d","d":250,"v":1.5},
{"p":83,"t":"c","d":102,"v":0.001},{"p":83,"t":"c","d":108,"v":0.005},{"p":83,"t":"c","d":120,"v":0.03},{"p":83,"t":"c","d":135,"v":0.12},{"p":83,"t":"c","d":150,"v":0.25},{"p":83,"t":"c","d":165,"v":0.32},{"p":83,"t":"c","d":180,"v":0.3},{"p":83,"t":"c","d":200,"v":0.18},{"p":83,"t":"c","d":220,"v":0.08},{"p":83,"t":"c","d":240,"v":0.035},{"p":83,"t":"c","d":253,"v":0.02},
{"p":83,"t":"d","d":106,"v":0.015},{"p":83,"t":"d","d":118,"v":0.1},{"p":83,"t":"d","d":132,"v":3},{"p":83,"t":"d","d":145,"v":4},{"p":83,"t":"d","d":250,"v":0.05},
{"p":93,"t":"c","d":104,"v":0.001},{"p":93,"t":"c","d":107,"v":0.005},{"p":93,"t":"c","d":115,"v":0.05},{"p":93,"t":"c","d":125,"v":0.2},{"p":93,"t":"c","d":138,"v":0.45},{"p":93,"t":"c","d":150,"v":0.5},{"p":93,"t":"c","d":160,"v":0.4},{"p":93,"t":"c","d":175,"v":0.15},{"p":93,"t":"c","d":190,"v":0.03},{"p":93,"t":"c","d":202,"v":0.004},{"p":93,"t":"c","d":208,"v":0.001},
{"p":93,"t":"d","d":117,"v":0.09},{"p":93,"t":"d","d":127,"v":0.3},{"p":93,"t":"d","d":137,"v":0.8},{"p":93,"t":"d","d":147,"v":1.5},{"p":93,"t":"d","d":158,"v":4},{"p":93,"t":"d","d":168,"v":2},{"p":93,"t":"d","d":178,"v":0.5},{"p":93,"t":"d","d":250,"v":0.008},
{"p":14,"t":"c","d":139,"v":0.0001},{"p":14,"t":"c","d":140,"v":0.0039},{"p":14,"t":"c","d":144,"v":0.064},{"p":14,"t":"c","d":150,"v":0.34},{"p":14,"t":"c","d":159,"v":0.8},{"p":14,"t":"c","d":167,"v":1.2},{"p":14,"t":"c","d":171,"v":1.1},{"p":14,"t":"c","d":180,"v":0.34},{"p":14,"t":"c","d":192,"v":0.036},{"p":14,"t":"c","d":209,"v":0.0068},{"p":14,"t":"c","d":230,"v":0.0022},{"p":14,"t":"c","d":253,"v":0.001},
{"p":14,"t":"d","d":155,"v":0.057},{"p":14,"t":"d","d":169,"v":0.064},{"p":14,"t":"d","d":183,"v":0.011},
{"p":14,"t":"x","d":101,"v":0.0001},{"p":14,"t":"x","d":114,"v":0.0001},{"p":14,"t":"x","d":128,"v":0.0001},{"p":14,"t":"x","d":141,"v":0.0001},{"p":14,"t":"x","d":246,"v":0.0001},
{"p":24,"t":"c","d":145,"v":0.001},{"p":24,"t":"c","d":148,"v":0.0076},{"p":24,"t":"c","d":154,"v":0.057},{"p":24,"t":"c","d":163,"v":0.14},{"p":24,"t":"c","d":172,"v":0.17},{"p":24,"t":"c","d":178,"v":0.089},{"p":24,"t":"c","d":187,"v":0.019},{"p":24,"t":"c","d":198,"v":0.0059},{"p":24,"t":"c","d":216,"v":0.0024},{"p":24,"t":"c","d":233,"v":0.001},
{"p":24,"t":"d","d":159,"v":0.0095},{"p":24,"t":"d","d":173,"v":0.02},
{"p":24,"t":"x","d":102,"v":0.0034},{"p":24,"t":"x","d":116,"v":0.0034},{"p":24,"t":"x","d":130,"v":0.0034},{"p":24,"t":"x","d":144,"v":0.0034},{"p":24,"t":"x","d":188,"v":0.0034},{"p":24,"t":"x","d":252,"v":0.0034},
{"p":34,"t":"c","d":136,"v":0.0001},{"p":34,"t":"c","d":138,"v":0.001},{"p":34,"t":"c","d":142,"v":0.01},{"p":34,"t":"c","d":148,"v":0.1},{"p":34,"t":"c","d":155,"v":0.4},{"p":34,"t":"c","d":162,"v":0.6},{"p":34,"t":"c","d":168,"v":0.5},{"p":34,"t":"c","d":176,"v":0.15},{"p":34,"t":"c","d":188,"v":0.03},{"p":34,"t":"c","d":205,"v":0.008},{"p":34,"t":"c","d":225,"v":0.003},{"p":34,"t":"c","d":253,"v":0.0012},
{"p":34,"t":"d","d":140,"v":0.006},{"p":34,"t":"d","d":150,"v":0.05},{"p":34,"t":"d","d":161,"v":0.6},{"p":34,"t":"d","d":168,"v":0.5},
{"p":34,"t":"x","d":101,"v":0.0015},{"p":34,"t":"x","d":115,"v":0.0015},
{"p":44,"t":"c","d":133,"v":0.0001},{"p":44,"t":"c","d":135,"v":0.001},{"p":44,"t":"c","d":139,"v":0.01},{"p":44,"t":"c","d":145,"v":0.06},{"p":44,"t":"c","d":151,"v":0.1},{"p":44,"t":"c","d":157,"v":0.06},{"p":44,"t":"c","d":165,"v":0.01},{"p":44,"t":"c","d":175,"v":0.002},{"p":44,"t":"c","d":190,"v":0.0004},{"p":44,"t":"c","d":205,"v":0.0001},
{"p":44,"t":"x","d":104,"v":0.0005},{"p":44,"t":"x","d":118,"v":0.0005},{"p":44,"t":"x","d":132,"v":0.0005},{"p":44,"t":"x","d":146,"v":0.0005},{"p":44,"t":"x","d":160,"v":0.0005},{"p":44,"t":"x","d":174,"v":0.0005},{"p":44,"t":"x","d":252,"v":0.0005},
{"p":54,"t":"c","d":135,"v":0.0001},{"p":54,"t":"c","d":140,"v":0.0006},{"p":54,"t":"c","d":148,"v":0.004},{"p":54,"t":"c","d":157,"v":0.012},{"p":54,"t":"c","d":165,"v":0.018},{"p":54,"t":"c","d":172,"v":0.014},{"p":54,"t":"c","d":182,"v":0.005},{"p":54,"t":"c","d":195,"v":0.0012},{"p":54,"t":"c","d":210,"v":0.0003},{"p":54,"t":"c","d":222,"v":0.0001},
{"p":54,"t":"x","d":104,"v":0.00013},{"p":54,"t":"x","d":118,"v":0.00013},{"p":54,"t":"x","d":132,"v":0.00013},{"p":54,"t":"x","d":146,"v":0.00013},{"p":54,"t":"x","d":160,"v":0.00013},{"p":54,"t":"x","d":174,"v":0.00013},{"p":54,"t":"x","d":252,"v":0.00013},
{"p":64,"t":"c","d":139,"v":0.0001},{"p":64,"t":"c","d":141,"v":0.001},{"p":64,"t":"c","d":144,"v":0.01},{"p":64,"t":"c","d":150,"v":0.2},{"p":64,"t":"c","d":157,"v":0.7},{"p":64,"t":"c","d":163,"v":0.9},{"p":64,"t":"c","d":168,"v":0.6},{"p":64,"t":"c","d":178,"v":0.15},{"p":64,"t":"c","d":195,"v":0.04},{"p":64,"t":"c","d":215,"v":0.012},{"p":64,"t":"c","d":235,"v":0.005},{"p":64,"t":"c","d":253,"v":0.0025},
{"p":64,"t":"d","d":150,"v":0.1},{"p":64,"t":"d","d":158,"v":0.7},{"p":64,"t":"d","d":165,"v":0.8},{"p":64,"t":"d","d":175,"v":0.2},
{"p":64,"t":"x","d":112,"v":0.00017},{"p":64,"t":"x","d":124,"v":0.00017},{"p":64,"t":"x","d":138,"v":0.00017},
{"p":74,"t":"c","d":118,"v":0.001},{"p":74,"t":"c","d":122,"v":0.005},{"p":74,"t":"c","d":135,"v":0.04},{"p":74,"t":"c","d":150,"v":0.2},{"p":74,"t":"c","d":165,"v":0.6},{"p":74,"t":"c","d":180,"v":1.0},{"p":74,"t":"c","d":195,"v":0.9},{"p":74,"t":"c","d":208,"v":0.4},{"p":74,"t":"c","d":220,"v":0.05},{"p":74,"t":"c","d":228,"v":0.005},{"p":74,"t":"c","d":232,"v":0.001},
{"p":74,"t":"d","d":104,"v":0.01},{"p":74,"t":"d","d":117,"v":0.008},{"p":74,"t":"d","d":132,"v":0.02},{"p":74,"t":"d","d":146,"v":0.06},{"p":74,"t":"d","d":160,"v":0.15},{"p":74,"t":"d","d":174,"v":0.2},
{"p":84,"t":"c","d":160,"v":0.001},{"p":84,"t":"c","d":165,"v":0.003},{"p":84,"t":"c","d":175,"v":0.012},{"p":84,"t":"c","d":190,"v":0.04},{"p":84,"t":"c","d":205,"v":0.07},{"p":84,"t":"c","d":220,"v":0.09},{"p":84,"t":"c","d":235,"v":0.085},{"p":84,"t":"c","d":253,"v":0.07},
{"p":84,"t":"d","d":184,"v":0.004},
{"p":84,"t":"x","d":104,"v":0.0035},{"p":84,"t":"x","d":118,"v":0.0035},{"p":84,"t":"x","d":132,"v":0.0035},{"p":84,"t":"x","d":146,"v":0.0035},{"p":84,"t":"x","d":160,"v":0.0035},{"p":84,"t":"x","d":252,"v":0.0035},
{"p":94,"t":"c","d":145,"v":0.001},{"p":94,"t":"c","d":150,"v":0.005},{"p":94,"t":"c","d":160,"v":0.04},{"p":94,"t":"c","d":175,"v":0.15},{"p":94,"t":"c","d":185,"v":0.25},{"p":94,"t":"c","d":195,"v":0.28},{"p":94,"t":"c","d":205,"v":0.2},{"p":94,"t":"c","d":220,"v":0.05},{"p":94,"t":"c","d":235,"v":0.005},{"p":94,"t":"c","d":240,"v":0.001},
{"p":94,"t":"d","d":174,"v":0.011},
{"p":94,"t":"x","d":104,"v":0.0035},{"p":94,"t":"x","d":118,"v":0.0035},{"p":94,"t":"x","d":132,"v":0.0035},{"p":94,"t":"x","d":146,"v":0.0035},{"p":94,"t":"x","d":252,"v":0.0035},
{"p":15,"t":"c","d":101,"v":0.0001},{"p":15,"t":"c","d":103,"v":0.003},{"p":15,"t":"c","d":108,"v":0.04},{"p":15,"t":"c","d":116,"v":0.2},{"p":15,"t":"c","d":124,"v":0.4},{"p":15,"t":"c","d":131,"v":0.35},{"p":15,"t":"c","d":140,"v":0.1},{"p":15,"t":"c","d":152,"v":0.02},{"p":15,"t":"c","d":165,"v":0.005},{"p":15,"t":"c","d":180,"v":0.0015},{"p":15,"t":"c","d":200,"v":0.0005},{"p":15,"t":"c","d":225,"v":0.00018},{"p":15,"t":"c","d":245,"v":0.0001},
{"p":15,"t":"d","d":112,"v":0.02},{"p":15,"t":"d","d":122,"v":1.2},{"p":15,"t":"d","d":131,"v":0.12},{"p":15,"t":"d","d":143,"v":0.04},{"p":15,"t":"d","d":157,"v":0.01},{"p":15,"t":"d","d":170,"v":0.004},
{"p":15,"t":"x","d":251,"v":0.0001},
{"p":25,"t":"c","d":106,"v":0.001},{"p":25,"t":"c","d":110,"v":0.005},{"p":25,"t":"c","d":118,"v":0.02},{"p":25,"t":"c","d":126,"v":0.04},{"p":25,"t":"c","d":133,"v":0.03},{"p":25,"t":"c","d":142,"v":0.008},{"p":25,"t":"c","d":150,"v":0.001},
{"p":25,"t":"d","d":116,"v":0.2},{"p":25,"t":"d","d":125,"v":1.2},{"p":25,"t":"d","d":133,"v":0.25},{"p":25,"t":"d","d":142,"v":0.035},{"p":25,"t":"d","d":155,"v":0.012},
{"p":25,"t":"x","d":250,"v":0.0025},
{"p":35,"t":"c","d":103,"v":0.0001},{"p":35,"t":"c","d":106,"v":0.0008},{"p":35,"t":"c","d":112,"v":0.004},{"p":35,"t":"c","d":120,"v":0.012},{"p":35,"t":"c","d":130,"v":0.025},{"p":35,"t":"c","d":137,"v":0.022},{"p":35,"t":"c","d":145,"v":0.01},{"p":35,"t":"c","d":155,"v":0.003},{"p":35,"t":"c","d":165,"v":0.0008},{"p":35,"t":"c","d":178,"v":0.0001},
{"p":35,"t":"d","d":112,"v":0.006},{"p":35,"t":"d","d":125,"v":0.02},{"p":35,"t":"d","d":137,"v":0.3},{"p":35,"t":"d","d":152,"v":0.08},{"p":35,"t":"d","d":166,"v":0.01},
{"p":35,"t":"x","d":252,"v":0.0008},
{"p":45,"t":"c","d":117,"v":0.0001},{"p":45,"t":"c","d":120,"v":0.001},{"p":45,"t":"c","d":125,"v":0.01},{"p":45,"t":"c","d":132,"v":0.05},{"p":45,"t":"c","d":138,"v":0.07},{"p":45,"t":"c","d":145,"v":0.04},{"p":45,"t":"c","d":155,"v":0.006},{"p":45,"t":"c","d":165,"v":0.0007},{"p":45,"t":"c","d":173,"v":0.0001},
{"p":45,"t":"d","d":125,"v":0.01},{"p":45,"t":"d","d":133,"v":0.07},{"p":45,"t":"d","d":141,"v":0.12},{"p":45,"t":"d","d":152,"v":0.03},
{"p":45,"t":"x","d":117,"v":0.00035},{"p":45,"t":"x","d":252,"v":0.00035},
{"p":55,"t":"c","d":107,"v":0.0001},{"p":55,"t":"c","d":112,"v":0.0008},{"p":55,"t":"c","d":120,"v":0.004},{"p":55,"t":"c","d":128,"v":0.009},{"p":55,"t":"c","d":135,"v":0.008},{"p":55,"t":"c","d":143,"v":0.003},{"p":55,"t":"c","d":150,"v":0.0006},{"p":55,"t":"c","d":157,"v":0.0001},
{"p":55,"t":"d","d":128,"v":0.01},{"p":55,"t":"d","d":148,"v":0.09},{"p":55,"t":"d","d":160,"v":0.008},
{"p":55,"t":"x","d":114,"v":0.00015},{"p":55,"t":"x","d":133,"v":0.00015},{"p":55,"t":"x","d":252,"v":0.00015},
{"p":65,"t":"c","d":118,"v":0.0001},{"p":65,"t":"c","d":121,"v":0.001},{"p":65,"t":"c","d":126,"v":0.005},{"p":65,"t":"c","d":132,"v":0.01},{"p":65,"t":"c","d":140,"v":0.012},{"p":65,"t":"c","d":150,"v":0.006},{"p":65,"t":"c","d":160,"v":0.0015},{"p":65,"t":"c","d":170,"v":0.0003},{"p":65,"t":"c","d":178,"v":0.0001},
{"p":65,"t":"d","d":131,"v":0.002},{"p":65,"t":"d","d":141,"v":0.01},{"p":65,"t":"d","d":150,"v":0.035},{"p":65,"t":"d","d":163,"v":0.01},{"p":65,"t":"d","d":176,"v":0.005},{"p":65,"t":"d","d":191,"v":0.002},
{"p":65,"t":"x","d":114,"v":0.0001},{"p":65,"t":"x","d":251,"v":0.0001},
{"p":75,"t":"c","d":110,"v":0.001},{"p":75,"t":"c","d":115,"v":0.005},{"p":75,"t":"c","d":125,"v":0.03},{"p":75,"t":"c","d":140,"v":0.1},{"p":75,"t":"c","d":152,"v":0.2},{"p":75,"t":"c","d":165,"v":0.15},{"p":75,"t":"c","d":178,"v":0.05},{"p":75,"t":"c","d":190,"v":0.008},{"p":75,"t":"c","d":198,"v":0.001},
{"p":75,"t":"d","d":133,"v":0.08},{"p":75,"t":"d","d":157,"v":0.2},{"p":75,"t":"d","d":177,"v":7},{"p":75,"t":"d","d":190,"v":5},
{"p":75,"t":"x","d":252,"v":0.002},
{"p":85,"t":"c","d":122,"v":0.001},{"p":85,"t":"c","d":130,"v":0.004},{"p":85,"t":"c","d":145,"v":0.015},{"p":85,"t":"c","d":160,"v":0.03},{"p":85,"t":"c","d":175,"v":0.035},{"p":85,"t":"c","d":190,"v":0.03},{"p":85,"t":"c","d":205,"v":0.015},{"p":85,"t":"c","d":220,"v":0.004},{"p":85,"t":"c","d":235,"v":0.001},
{"p":85,"t":"d","d":115,"v":0.008},{"p":85,"t":"d","d":147,"v":0.15},{"p":85,"t":"d","d":165,"v":0.2},{"p":85,"t":"d","d":250,"v":0.01},
{"p":85,"t":"x","d":145,"v":0.003},
{"p":95,"t":"c","d":124,"v":0.001},{"p":95,"t":"c","d":130,"v":0.004},{"p":95,"t":"c","d":140,"v":0.015},{"p":95,"t":"c","d":150,"v":0.03},{"p":95,"t":"c","d":160,"v":0.035},{"p":95,"t":"c","d":170,"v":0.03},{"p":95,"t":"c","d":180,"v":0.012},{"p":95,"t":"c","d":190,"v":0.003},{"p":95,"t":"c","d":196,"v":0.001},
{"p":95,"t":"d","d":152,"v":0.02},{"p":95,"t":"d","d":168,"v":0.05},{"p":95,"t":"d","d":180,"v":0.07},
{"p":95,"t":"x","d":117,"v":0.003},{"p":95,"t":"x","d":137,"v":0.003},{"p":95,"t":"x","d":252,"v":0.003},
{"p":16,"t":"c","d":115,"v":0.0001},{"p":16,"t":"c","d":120,"v":0.001},{"p":16,"t":"c","d":128,"v":0.01},{"p":16,"t":"c","d":138,"v":0.05},{"p":16,"t":"c","d":147,"v":0.08},{"p":16,"t":"c","d":155,"v":0.05},{"p":16,"t":"c","d":165,"v":0.01},{"p":16,"t":"c","d":178,"v":0.001},{"p":16,"t":"c","d":188,"v":0.0001},
{"p":16,"t":"d","d":114,"v":0.005},{"p":16,"t":"d","d":141,"v":0.3},{"p":16,"t":"d","d":155,"v":0.11},{"p":16,"t":"d","d":174,"v":0.013},
{"p":16,"t":"x","d":127,"v":0.0001},
{"p":26,"t":"c","d":116,"v":0.001},{"p":26,"t":"c","d":120,"v":0.005},{"p":26,"t":"c","d":127,"v":0.03},{"p":26,"t":"c","d":135,"v":0.08},{"p":26,"t":"c","d":141,"v":0.07},{"p":26,"t":"c","d":148,"v":0.02},{"p":26,"t":"c","d":155,"v":0.003},{"p":26,"t":"c","d":158,"v":0.001},
{"p":26,"t":"d","d":122,"v":0.07},{"p":26,"t":"d","d":132,"v":0.2},{"p":26,"t":"d","d":143,"v":0.5},{"p":26,"t":"d","d":153,"v":0.08},
{"p":26,"t":"x","d":186,"v":0.0035},
{"p":36,"t":"c","d":108,"v":0.0001},{"p":36,"t":"c","d":112,"v":0.001},{"p":36,"t":"c","d":120,"v":0.006},{"p":36,"t":"c","d":130,"v":0.025},{"p":36,"t":"c","d":142,"v":0.05},{"p":36,"t":"c","d":150,"v":0.04},{"p":36,"t":"c","d":160,"v":0.01},{"p":36,"t":"c","d":170,"v":0.002},{"p":36,"t":"c","d":180,"v":0.0003},{"p":36,"t":"c","d":187,"v":0.0001},
{"p":36,"t":"d","d":115,"v":0.3},{"p":36,"t":"d","d":130,"v":0.25},{"p":36,"t":"d","d":144,"v":0.4},{"p":36,"t":"d","d":157,"v":0.2},{"p":36,"t":"d","d":170,"v":0.11},
{"p":46,"t":"c","d":125,"v":0.0001},{"p":46,"t":"c","d":128,"v":0.001},{"p":46,"t":"c","d":133,"v":0.01},{"p":46,"t":"c","d":140,"v":0.04},{"p":46,"t":"c","d":145,"v":0.05},{"p":46,"t":"c","d":152,"v":0.025},{"p":46,"t":"c","d":160,"v":0.003},{"p":46,"t":"c","d":168,"v":0.0003},{"p":46,"t":"c","d":172,"v":0.0001},
{"p":46,"t":"d","d":111,"v":0.02},{"p":46,"t":"d","d":130,"v":0.05},{"p":46,"t":"d","d":141,"v":0.18},{"p":46,"t":"d","d":154,"v":0.08},{"p":46,"t":"d","d":164,"v":0.02},
{"p":46,"t":"x","d":188,"v":0.0004},
{"p":56,"t":"c","d":125,"v":0.0001},{"p":56,"t":"c","d":130,"v":0.00018},{"p":56,"t":"c","d":137,"v":0.00022},{"p":56,"t":"c","d":143,"v":0.00018},{"p":56,"t":"c","d":150,"v":0.0001},
{"p":56,"t":"d","d":142,"v":0.015},
{"p":56,"t":"x","d":114,"v":0.00013},{"p":56,"t":"x","d":128,"v":0.00013},{"p":56,"t":"x","d":156,"v":0.00013},{"p":56,"t":"x","d":170,"v":0.00013},
{"p":66,"t":"c","d":126,"v":0.0001},{"p":66,"t":"c","d":130,"v":0.001},{"p":66,"t":"c","d":136,"v":0.01},{"p":66,"t":"c","d":144,"v":0.05},{"p":66,"t":"c","d":151,"v":0.07},{"p":66,"t":"c","d":158,"v":0.04},{"p":66,"t":"c","d":168,"v":0.005},{"p":66,"t":"c","d":178,"v":0.0005},{"p":66,"t":"c","d":186,"v":0.0001},
{"p":66,"t":"d","d":118,"v":0.03},{"p":66,"t":"d","d":146,"v":0.11},{"p":66,"t":"d","d":159,"v":0.05},{"p":66,"t":"d","d":176,"v":0.006},
{"p":76,"t":"c","d":110,"v":0.001},{"p":76,"t":"c","d":118,"v":0.005},{"p":76,"t":"c","d":135,"v":0.04},{"p":76,"t":"c","d":155,"v":0.15},{"p":76,"t":"c","d":170,"v":0.17},{"p":76,"t":"c","d":185,"v":0.1},{"p":76,"t":"c","d":200,"v":0.03},{"p":76,"t":"c","d":212,"v":0.005},{"p":76,"t":"c","d":220,"v":0.001},
{"p":76,"t":"d","d":114,"v":0.003},{"p":76,"t":"d","d":129,"v":0.006},{"p":76,"t":"d","d":149,"v":0.1},
{"p":76,"t":"x","d":172,"v":0.003},
{"p":86,"t":"c","d":135,"v":0.001},{"p":86,"t":"c","d":145,"v":0.004},{"p":86,"t":"c","d":160,"v":0.015},{"p":86,"t":"c","d":175,"v":0.035},{"p":86,"t":"c","d":190,"v":0.04},{"p":86,"t":"c","d":205,"v":0.025},{"p":86,"t":"c","d":220,"v":0.005},{"p":86,"t":"c","d":235,"v":0.001},
{"p":86,"t":"d","d":146,"v":0.4},{"p":86,"t":"d","d":157,"v":0.005},
{"p":86,"t":"x","d":112,"v":0.004},{"p":86,"t":"x","d":126,"v":0.004},{"p":86,"t":"x","d":182,"v":0.004},
{"p":96,"t":"c","d":150,"v":0.001},{"p":96,"t":"c","d":158,"v":0.003},{"p":96,"t":"c","d":168,"v":0.006},{"p":96,"t":"c","d":178,"v":0.005},{"p":96,"t":"c","d":188,"v":0.002},{"p":96,"t":"c","d":195,"v":0.001},
{"p":96,"t":"d","d":144,"v":0.04},{"p":96,"t":"d","d":170,"v":0.007},{"p":96,"t":"d","d":180,"v":0.008},
{"p":96,"t":"x","d":114,"v":0.0035},{"p":96,"t":"x","d":128,"v":0.0035},{"p":96,"t":"x","d":156,"v":0.0035},
{"p":17,"t":"c","d":101,"v":0.021},{"p":17,"t":"c","d":110,"v":0.0058},{"p":17,"t":"c","d":123,"v":0.00077},{"p":17,"t":"c","d":138,"v":0.000135},{"p":17,"t":"c","d":141,"v":0.0001},{"p":17,"t":"c","d":148,"v":0.0001},{"p":17,"t":"c","d":157,"v":0.0018},{"p":17,"t":"c","d":165,"v":0.014},{"p":17,"t":"c","d":174,"v":0.045},{"p":17,"t":"c","d":179,"v":0.067},{"p":17,"t":"c","d":184,"v":0.053},{"p":17,"t":"c","d":193,"v":0.011},{"p":17,"t":"c","d":203,"v":0.0018},{"p":17,"t":"c","d":216,"v":0.00032},{"p":17,"t":"c","d":231,"v":0.0001},
{"p":17,"t":"d","d":158,"v":0.34},{"p":17,"t":"d","d":171,"v":0.13},{"p":17,"t":"d","d":183,"v":0.045},{"p":17,"t":"d","d":201,"v":0.0029},
{"p":17,"t":"x","d":144,"v":0.0001},
{"p":27,"t":"c","d":101,"v":0.0015},{"p":27,"t":"c","d":104,"v":0.001},{"p":27,"t":"c","d":148,"v":0.001},{"p":27,"t":"c","d":155,"v":0.004},{"p":27,"t":"c","d":162,"v":0.01},{"p":27,"t":"c","d":168,"v":0.012},{"p":27,"t":"c","d":175,"v":0.006},{"p":27,"t":"c","d":183,"v":0.0015},{"p":27,"t":"c","d":186,"v":0.001},
{"p":27,"t":"d","d":156,"v":0.65},{"p":27,"t":"d","d":169,"v":0.12},{"p":27,"t":"d","d":179,"v":0.02},
{"p":27,"t":"x","d":142,"v":0.0026},{"p":27,"t":"x","d":198,"v":0.0026},
{"p":37,"t":"c","d":101,"v":0.04},{"p":37,"t":"c","d":110,"v":0.01},{"p":37,"t":"c","d":120,"v":0.001},{"p":37,"t":"c","d":126,"v":0.0001},{"p":37,"t":"c","d":132,"v":0.0001},{"p":37,"t":"c","d":140,"v":0.002},{"p":37,"t":"c","d":150,"v":0.05},{"p":37,"t":"c","d":160,"v":0.2},{"p":37,"t":"c","d":166,"v":0.25},{"p":37,"t":"c","d":175,"v":0.1},{"p":37,"t":"c","d":185,"v":0.01},{"p":37,"t":"c","d":195,"v":0.001},{"p":37,"t":"c","d":205,"v":0.0001},
{"p":37,"t":"d","d":157,"v":0.5},{"p":37,"t":"d","d":170,"v":1.8},{"p":37,"t":"d","d":180,"v":0.8},{"p":37,"t":"d","d":193,"v":0.1},
{"p":47,"t":"c","d":101,"v":0.006},{"p":47,"t":"c","d":110,"v":0.002},{"p":47,"t":"c","d":120,"v":0.0004},{"p":47,"t":"c","d":133,"v":0.0001},{"p":47,"t":"c","d":150,"v":0.0001},{"p":47,"t":"c","d":155,"v":0.001},{"p":47,"t":"c","d":163,"v":0.008},{"p":47,"t":"c","d":170,"v":0.015},{"p":47,"t":"c","d":177,"v":0.01},{"p":47,"t":"c","d":187,"v":0.001},{"p":47,"t":"c","d":195,"v":0.0001},
{"p":47,"t":"d","d":156,"v":0.03},{"p":47,"t":"d","d":170,"v":0.1},{"p":47,"t":"d","d":183,"v":0.005},
{"p":47,"t":"x","d":133,"v":0.0004},{"p":47,"t":"x","d":145,"v":0.0004},
{"p":57,"t":"c","d":101,"v":0.0016},{"p":57,"t":"c","d":110,"v":0.0008},{"p":57,"t":"c","d":120,"v":0.0003},{"p":57,"t":"c","d":135,"v":0.0001},{"p":57,"t":"c","d":150,"v":0.0001},{"p":57,"t":"c","d":158,"v":0.0006},{"p":57,"t":"c","d":168,"v":0.003},{"p":57,"t":"c","d":178,"v":0.005},{"p":57,"t":"c","d":187,"v":0.002},{"p":57,"t":"c","d":197,"v":0.0005},{"p":57,"t":"c","d":205,"v":0.0001},
{"p":57,"t":"d","d":165,"v":0.00015},
{"p":57,"t":"x","d":145,"v":0.00012},{"p":57,"t":"x","d":157,"v":0.00012},
{"p":67,"t":"c","d":101,"v":0.02},{"p":67,"t":"c","d":115,"v":0.006},{"p":67,"t":"c","d":130,"v":0.0015},{"p":67,"t":"c","d":150,"v":0.0004},{"p":67,"t":"c","d":153,"v":0.002},{"p":67,"t":"c","d":158,"v":0.03},{"p":67,"t":"c","d":165,"v":0.2},{"p":67,"t":"c","d":172,"v":0.3},{"p":67,"t":"c","d":180,"v":0.15},{"p":67,"t":"c","d":195,"v":0.02},{"p":67,"t":"c","d":210,"v":0.002},{"p":67,"t":"c","d":225,"v":0.0002},{"p":67,"t":"c","d":232,"v":0.0001},
{"p":67,"t":"d","d":146,"v":0.0006},{"p":67,"t":"d","d":166,"v":0.25},{"p":67,"t":"d","d":178,"v":1.8},{"p":67,"t":"d","d":188,"v":0.76},
{"p":77,"t":"c","d":101,"v":0.03},{"p":77,"t":"c","d":115,"v":0.08},{"p":77,"t":"c","d":130,"v":0.1},{"p":77,"t":"c","d":145,"v":0.05},{"p":77,"t":"c","d":158,"v":0.04},{"p":77,"t":"c","d":175,"v":0.1},{"p":77,"t":"c","d":195,"v":0.15},{"p":77,"t":"c","d":215,"v":0.08},{"p":77,"t":"c","d":235,"v":0.01},{"p":77,"t":"c","d":253,"v":0.0015},
{"p":77,"t":"d","d":118,"v":0.1},{"p":77,"t":"d","d":150,"v":0.06},{"p":77,"t":"d","d":168,"v":0.1},
{"p":87,"t":"c","d":101,"v":0.001},{"p":87,"t":"c","d":168,"v":0.001},{"p":87,"t":"c","d":172,"v":0.0016},{"p":87,"t":"c","d":176,"v":0.0026},{"p":87,"t":"c","d":182,"v":0.003},{"p":87,"t":"c","d":196,"v":0.0021},{"p":87,"t":"c","d":208,"v":0.0016},{"p":87,"t":"c","d":220,"v":0.001},{"p":87,"t":"c","d":253,"v":0.001},
{"p":87,"t":"x","d":147,"v":0.003},{"p":87,"t":"x","d":159,"v":0.003},{"p":87,"t":"x","d":173,"v":0.003},{"p":87,"t":"x","d":183,"v":0.003},{"p":87,"t":"x","d":201,"v":0.003},
{"p":97,"t":"c","d":103,"v":0.001},{"p":97,"t":"c","d":113,"v":0.0016},{"p":97,"t":"c","d":126,"v":0.002},{"p":97,"t":"c","d":138,"v":0.0014},{"p":97,"t":"c","d":144,"v":0.001},{"p":97,"t":"c","d":165,"v":0.001},{"p":97,"t":"c","d":175,"v":0.0032},{"p":97,"t":"c","d":187,"v":0.005},{"p":97,"t":"c","d":200,"v":0.005},{"p":97,"t":"c","d":216,"v":0.0028},{"p":97,"t":"c","d":233,"v":0.001},
{"p":97,"t":"d","d":183,"v":0.011},
{"p":97,"t":"x","d":146,"v":0.0028},{"p":97,"t":"x","d":159,"v":0.0028},{"p":97,"t":"x","d":172,"v":0.0028},{"p":97,"t":"x","d":200,"v":0.0028},
{"p":97,"t":"n","d":160,"v":0.0026,"lab":"10"}
]
},
"spacing": 19,
"bounds": "flush",
"vconcat": [
{"width": 1299, "height": 74, "view": {"stroke": null}, "data": {"name": "heads"},
 "encoding": {
  "x": {"field": "name", "type": "nominal", "scale": {"type": "point", "domain": ["Pretilachlor","Butachlor","Daimuron","Cafenstrole","Benzofenap","Mefenacet","Bentazon","Simetryn","MCPA"], "range": [106, 1232], "padding": 0}, "axis": null},
  "y": {"field": "tier", "type": "nominal", "scale": {"type": "point", "domain": ["upper","lower"], "range": [33, 65], "padding": 0}, "axis": null}
 },
 "layer": [
  {"mark": {"type": "text", "font": "Open Sans", "fontWeight": "bold", "fontSize": 27, "align": "center", "baseline": "alphabetic", "color": "#111"}, "encoding": {"text": {"field": "name"}}},
  {"transform": [{"filter": {"field": "name", "oneOf": ["Pretilachlor","Cafenstrole","Benzofenap"]}}], "mark": {"type": "tick", "orient": "horizontal", "size": 162, "thickness": 2, "color": "#111", "yOffset": 5}},
  {"transform": [{"filter": {"field": "name", "oneOf": ["Butachlor","Daimuron","Mefenacet"]}}], "mark": {"type": "tick", "orient": "horizontal", "size": 142, "thickness": 2, "color": "#111", "yOffset": 5}},
  {"transform": [{"filter": {"field": "name", "oneOf": ["Bentazon","Simetryn"]}}], "mark": {"type": "tick", "orient": "horizontal", "size": 126, "thickness": 2, "color": "#111", "yOffset": 5}},
  {"transform": [{"filter": {"field": "name", "oneOf": ["MCPA"]}}], "mark": {"type": "tick", "orient": "horizontal", "size": 84, "thickness": 2, "color": "#111", "yOffset": 5}},
  {"transform": [{"filter": {"field": "name", "oneOf": ["Butachlor","Cafenstrole","Mefenacet"]}}], "mark": {"type": "point", "shape": "M-0.35,-1L0.35,-1L0.35,0.15L0.8,0.15L0,1L-0.8,0.15L-0.35,0.15Z", "size": 1024, "filled": true, "fill": "#ffffff", "stroke": "#000", "strokeWidth": 1.5, "opacity": 1, "yOffset": 33}},
  {"transform": [{"filter": {"field": "name", "oneOf": ["Simetryn"]}}], "mark": {"type": "point", "shape": "M-0.35,-1L0.35,-1L0.35,0.15L0.8,0.15L0,1L-0.8,0.15L-0.35,0.15Z", "size": 441, "filled": true, "fill": "#ffffff", "stroke": "#000", "strokeWidth": 1.5, "opacity": 1, "yOffset": 11}},
  {"transform": [{"filter": {"field": "name", "oneOf": ["Pretilachlor","Daimuron","Benzofenap"]}}], "mark": {"type": "point", "shape": "M-0.5,-0.4L0.5,-0.4L0.5,-0.05L1,-0.05L0,0.4L-1,-0.05L-0.5,-0.05Z", "size": 900, "filled": true, "fill": "#ffffff", "stroke": "#000", "strokeWidth": 1.5, "opacity": 1, "yOffset": 10}}
 ]
},
{"spacing": 0, "hconcat": [
 {"width": 29, "height": 660, "view": {"stroke": null}, "data": {"name": "rivers"},
  "mark": {"type": "text", "angle": 270, "font": "Liberation Sans", "fontWeight": "bold", "fontSize": 21, "align": "center", "baseline": "middle", "color": "#111"},
  "encoding": {"y": {"field": "name", "type": "nominal", "scale": {"type": "point", "domain": ["Hanamuro","Koise","Kokai","Usui","Yoshida","Asahina","Kotsuki"], "range": [36, 614], "padding": 0}, "axis": null}, "text": {"field": "name"}}},
 {"data": {"name": "obs"}, "transform": [{"filter": "datum.p>10 && datum.p<20"}, {"lookup": "p", "from": {"data": {"name": "panels"}, "key": "p", "fields": ["title"]}}],
  "facet": {"field": "title", "type": "nominal", "sort": {"field": "p", "op": "min"}, "header": {"title": null}}, "columns": 1, "spacing": 12.4,
  "spec": {"width": 117, "height": 67,
   "encoding": {"x": {"field": "d", "type": "quantitative", "title": null, "scale": {"domain": [101, 253], "nice": false, "zero": false}, "axis": {"values": [102,116,130,144,158,172,186,200,214,228,242], "labelExpr": "timeFormat(datetime(2009,0,datum.value),'%-m/%-d')", "labelFontSize": 4.5, "labelOverlap": false, "labelFlush": false}},
    "y": {"field": "v", "type": "quantitative", "title": null, "scale": {"type": "log", "domain": [0.0001, 10], "nice": false}, "axis": {"values": [0.0001,0.001,0.01,0.1,1,10,100], "tickCount": 10, "format": "~g", "minExtent": 18, "maxExtent": 18}}},
   "layer": [
    {"transform": [{"filter": "datum.t=='c'"}], "mark": {"type": "line", "color": "#1b2a4a", "strokeWidth": 1.3, "clip": true}},
    {"transform": [{"filter": "datum.t=='d'"}], "mark": {"type": "point", "shape": "circle", "filled": true, "fill": "#e0202a", "stroke": "#3b0000", "strokeWidth": 0.6, "size": 16, "opacity": 1}},
    {"transform": [{"filter": "datum.t=='x'"}], "mark": {"type": "point", "shape": "M-1,-1L1,1M-1,1L1,-1", "filled": false, "stroke": "#111", "strokeWidth": 1.1, "size": 20, "opacity": 1}}
   ]},
  "resolve": {"axis": {"x": "independent", "y": "independent"}}},
 {"data": {"name": "obs"}, "transform": [{"filter": "datum.p>20 && datum.p<30"}, {"lookup": "p", "from": {"data": {"name": "panels"}, "key": "p", "fields": ["title"]}}],
  "facet": {"field": "title", "type": "nominal", "sort": {"field": "p", "op": "min"}, "header": {"title": null}}, "columns": 1, "spacing": 12.4,
  "spec": {"width": 117, "height": 67,
   "encoding": {"x": {"field": "d", "type": "quantitative", "title": null, "scale": {"domain": [101, 253], "nice": false, "zero": false}, "axis": {"values": [102,116,130,144,158,172,186,200,214,228,242], "labelExpr": "timeFormat(datetime(2009,0,datum.value),'%-m/%-d')", "labelFontSize": 4.5, "labelOverlap": false, "labelFlush": false}},
    "y": {"field": "v", "type": "quantitative", "title": null, "scale": {"type": "log", "domain": [0.001, 10], "nice": false}, "axis": {"values": [0.0001,0.001,0.01,0.1,1,10,100], "tickCount": 10, "format": "~g", "minExtent": 18, "maxExtent": 18}}},
   "layer": [
    {"transform": [{"filter": "datum.t=='c'"}], "mark": {"type": "line", "color": "#1b2a4a", "strokeWidth": 1.3, "clip": true}},
    {"transform": [{"filter": "datum.t=='d'"}], "mark": {"type": "point", "shape": "circle", "filled": true, "fill": "#e0202a", "stroke": "#3b0000", "strokeWidth": 0.6, "size": 16, "opacity": 1}},
    {"transform": [{"filter": "datum.t=='x'"}], "mark": {"type": "point", "shape": "M-1,-1L1,1M-1,1L1,-1", "filled": false, "stroke": "#111", "strokeWidth": 1.1, "size": 20, "opacity": 1}}
   ]},
  "resolve": {"axis": {"x": "independent", "y": "independent"}}},
 {"data": {"name": "obs"}, "transform": [{"filter": "datum.p>30 && datum.p<40"}, {"lookup": "p", "from": {"data": {"name": "panels"}, "key": "p", "fields": ["title"]}}],
  "facet": {"field": "title", "type": "nominal", "sort": {"field": "p", "op": "min"}, "header": {"title": null}}, "columns": 1, "spacing": 12.4,
  "spec": {"width": 117, "height": 67,
   "encoding": {"x": {"field": "d", "type": "quantitative", "title": null, "scale": {"domain": [101, 253], "nice": false, "zero": false}, "axis": {"values": [102,116,130,144,158,172,186,200,214,228,242], "labelExpr": "timeFormat(datetime(2009,0,datum.value),'%-m/%-d')", "labelFontSize": 4.5, "labelOverlap": false, "labelFlush": false}},
    "y": {"field": "v", "type": "quantitative", "title": null, "scale": {"type": "log", "domain": [0.0001, 10], "nice": false}, "axis": {"values": [0.0001,0.001,0.01,0.1,1,10,100], "tickCount": 10, "format": "~g", "minExtent": 18, "maxExtent": 18}}},
   "layer": [
    {"transform": [{"filter": "datum.t=='c'"}], "mark": {"type": "line", "color": "#1b2a4a", "strokeWidth": 1.3, "clip": true}},
    {"transform": [{"filter": "datum.t=='d'"}], "mark": {"type": "point", "shape": "circle", "filled": true, "fill": "#e0202a", "stroke": "#3b0000", "strokeWidth": 0.6, "size": 16, "opacity": 1}},
    {"transform": [{"filter": "datum.t=='x'"}], "mark": {"type": "point", "shape": "M-1,-1L1,1M-1,1L1,-1", "filled": false, "stroke": "#111", "strokeWidth": 1.1, "size": 20, "opacity": 1}}
   ]},
  "resolve": {"axis": {"x": "independent", "y": "independent"}}},
 {"data": {"name": "obs"}, "transform": [{"filter": "datum.p>40 && datum.p<50"}, {"lookup": "p", "from": {"data": {"name": "panels"}, "key": "p", "fields": ["title"]}}],
  "facet": {"field": "title", "type": "nominal", "sort": {"field": "p", "op": "min"}, "header": {"title": null}}, "columns": 1, "spacing": 12.4,
  "spec": {"width": 117, "height": 67,
   "encoding": {"x": {"field": "d", "type": "quantitative", "title": null, "scale": {"domain": [101, 253], "nice": false, "zero": false}, "axis": {"values": [102,116,130,144,158,172,186,200,214,228,242], "labelExpr": "timeFormat(datetime(2009,0,datum.value),'%-m/%-d')", "labelFontSize": 4.5, "labelOverlap": false, "labelFlush": false}},
    "y": {"field": "v", "type": "quantitative", "title": null, "scale": {"type": "log", "domain": [0.0001, 10], "nice": false}, "axis": {"values": [0.0001,0.001,0.01,0.1,1,10,100], "tickCount": 10, "format": "~g", "minExtent": 18, "maxExtent": 18}}},
   "layer": [
    {"transform": [{"filter": "datum.t=='c'"}], "mark": {"type": "line", "color": "#1b2a4a", "strokeWidth": 1.3, "clip": true}},
    {"transform": [{"filter": "datum.t=='d'"}], "mark": {"type": "point", "shape": "circle", "filled": true, "fill": "#e0202a", "stroke": "#3b0000", "strokeWidth": 0.6, "size": 16, "opacity": 1}},
    {"transform": [{"filter": "datum.t=='x'"}], "mark": {"type": "point", "shape": "M-1,-1L1,1M-1,1L1,-1", "filled": false, "stroke": "#111", "strokeWidth": 1.1, "size": 20, "opacity": 1}}
   ]},
  "resolve": {"axis": {"x": "independent", "y": "independent"}}},
 {"data": {"name": "obs"}, "transform": [{"filter": "datum.p>50 && datum.p<60"}, {"lookup": "p", "from": {"data": {"name": "panels"}, "key": "p", "fields": ["title"]}}],
  "facet": {"field": "title", "type": "nominal", "sort": {"field": "p", "op": "min"}, "header": {"title": null}}, "columns": 1, "spacing": 12.4,
  "spec": {"width": 117, "height": 67,
   "encoding": {"x": {"field": "d", "type": "quantitative", "title": null, "scale": {"domain": [101, 253], "nice": false, "zero": false}, "axis": {"values": [102,116,130,144,158,172,186,200,214,228,242], "labelExpr": "timeFormat(datetime(2009,0,datum.value),'%-m/%-d')", "labelFontSize": 4.5, "labelOverlap": false, "labelFlush": false}},
    "y": {"field": "v", "type": "quantitative", "title": null, "scale": {"type": "log", "domain": [0.0001, 1], "nice": false}, "axis": {"values": [0.0001,0.001,0.01,0.1,1,10,100], "tickCount": 10, "format": "~g", "minExtent": 18, "maxExtent": 18}}},
   "layer": [
    {"transform": [{"filter": "datum.t=='c'"}], "mark": {"type": "line", "color": "#1b2a4a", "strokeWidth": 1.3, "clip": true}},
    {"transform": [{"filter": "datum.t=='d'"}], "mark": {"type": "point", "shape": "circle", "filled": true, "fill": "#e0202a", "stroke": "#3b0000", "strokeWidth": 0.6, "size": 16, "opacity": 1}},
    {"transform": [{"filter": "datum.t=='x'"}], "mark": {"type": "point", "shape": "M-1,-1L1,1M-1,1L1,-1", "filled": false, "stroke": "#111", "strokeWidth": 1.1, "size": 20, "opacity": 1}}
   ]},
  "resolve": {"axis": {"x": "independent", "y": "independent"}}},
 {"data": {"name": "obs"}, "transform": [{"filter": "datum.p>60 && datum.p<70"}, {"lookup": "p", "from": {"data": {"name": "panels"}, "key": "p", "fields": ["title"]}}],
  "facet": {"field": "title", "type": "nominal", "sort": {"field": "p", "op": "min"}, "header": {"title": null}}, "columns": 1, "spacing": 12.4,
  "spec": {"width": 117, "height": 67,
   "encoding": {"x": {"field": "d", "type": "quantitative", "title": null, "scale": {"domain": [101, 253], "nice": false, "zero": false}, "axis": {"values": [102,116,130,144,158,172,186,200,214,228,242], "labelExpr": "timeFormat(datetime(2009,0,datum.value),'%-m/%-d')", "labelFontSize": 4.5, "labelOverlap": false, "labelFlush": false}},
    "y": {"field": "v", "type": "quantitative", "title": null, "scale": {"type": "log", "domain": [0.0001, 10], "nice": false}, "axis": {"values": [0.0001,0.001,0.01,0.1,1,10,100], "tickCount": 10, "format": "~g", "minExtent": 18, "maxExtent": 18}}},
   "layer": [
    {"transform": [{"filter": "datum.t=='c'"}], "mark": {"type": "line", "color": "#1b2a4a", "strokeWidth": 1.3, "clip": true}},
    {"transform": [{"filter": "datum.t=='d'"}], "mark": {"type": "point", "shape": "circle", "filled": true, "fill": "#e0202a", "stroke": "#3b0000", "strokeWidth": 0.6, "size": 16, "opacity": 1}},
    {"transform": [{"filter": "datum.t=='x'"}], "mark": {"type": "point", "shape": "M-1,-1L1,1M-1,1L1,-1", "filled": false, "stroke": "#111", "strokeWidth": 1.1, "size": 20, "opacity": 1}}
   ]},
  "resolve": {"axis": {"x": "independent", "y": "independent"}}},
 {"data": {"name": "obs"}, "transform": [{"filter": "datum.p>70 && datum.p<80"}, {"lookup": "p", "from": {"data": {"name": "panels"}, "key": "p", "fields": ["title"]}}],
  "facet": {"field": "title", "type": "nominal", "sort": {"field": "p", "op": "min"}, "header": {"title": null}}, "columns": 1, "spacing": 12.4,
  "spec": {"width": 117, "height": 67,
   "encoding": {"x": {"field": "d", "type": "quantitative", "title": null, "scale": {"domain": [101, 253], "nice": false, "zero": false}, "axis": {"values": [102,116,130,144,158,172,186,200,214,228,242], "labelExpr": "timeFormat(datetime(2009,0,datum.value),'%-m/%-d')", "labelFontSize": 4.5, "labelOverlap": false, "labelFlush": false}},
    "y": {"field": "v", "type": "quantitative", "title": null, "scale": {"type": "log", "domain": [0.001, 100], "nice": false}, "axis": {"values": [0.0001,0.001,0.01,0.1,1,10,100], "tickCount": 10, "format": "~g", "minExtent": 18, "maxExtent": 18}}},
   "layer": [
    {"transform": [{"filter": "datum.t=='c'"}], "mark": {"type": "line", "color": "#1b2a4a", "strokeWidth": 1.3, "clip": true}},
    {"transform": [{"filter": "datum.t=='d'"}], "mark": {"type": "point", "shape": "circle", "filled": true, "fill": "#e0202a", "stroke": "#3b0000", "strokeWidth": 0.6, "size": 16, "opacity": 1}},
    {"transform": [{"filter": "datum.t=='x'"}], "mark": {"type": "point", "shape": "M-1,-1L1,1M-1,1L1,-1", "filled": false, "stroke": "#111", "strokeWidth": 1.1, "size": 20, "opacity": 1}}
   ]},
  "resolve": {"axis": {"x": "independent", "y": "independent"}}},
 {"data": {"name": "obs"}, "transform": [{"filter": "datum.p>80 && datum.p<90"}, {"lookup": "p", "from": {"data": {"name": "panels"}, "key": "p", "fields": ["title"]}}],
  "facet": {"field": "title", "type": "nominal", "sort": {"field": "p", "op": "min"}, "header": {"title": null}}, "columns": 1, "spacing": 12.4,
  "spec": {"width": 117, "height": 67,
   "encoding": {"x": {"field": "d", "type": "quantitative", "title": null, "scale": {"domain": [101, 253], "nice": false, "zero": false}, "axis": {"values": [102,116,130,144,158,172,186,200,214,228,242], "labelExpr": "timeFormat(datetime(2009,0,datum.value),'%-m/%-d')", "labelFontSize": 4.5, "labelOverlap": false, "labelFlush": false}},
    "y": {"field": "v", "type": "quantitative", "title": null, "scale": {"type": "log", "domain": [0.001, 10], "nice": false}, "axis": {"values": [0.0001,0.001,0.01,0.1,1,10,100], "tickCount": 10, "format": "~g", "minExtent": 18, "maxExtent": 18}}},
   "layer": [
    {"transform": [{"filter": "datum.t=='c'"}], "mark": {"type": "line", "color": "#1b2a4a", "strokeWidth": 1.3, "clip": true}},
    {"transform": [{"filter": "datum.t=='d'"}], "mark": {"type": "point", "shape": "circle", "filled": true, "fill": "#e0202a", "stroke": "#3b0000", "strokeWidth": 0.6, "size": 16, "opacity": 1}},
    {"transform": [{"filter": "datum.t=='x'"}], "mark": {"type": "point", "shape": "M-1,-1L1,1M-1,1L1,-1", "filled": false, "stroke": "#111", "strokeWidth": 1.1, "size": 20, "opacity": 1}}
   ]},
  "resolve": {"axis": {"x": "independent", "y": "independent"}}},
 {"data": {"name": "obs"}, "transform": [{"filter": "datum.p>90 && datum.p<100"}, {"lookup": "p", "from": {"data": {"name": "panels"}, "key": "p", "fields": ["title"]}}],
  "facet": {"field": "title", "type": "nominal", "sort": {"field": "p", "op": "min"}, "header": {"title": null}}, "columns": 1, "spacing": 12.4,
  "spec": {"width": 117, "height": 67,
   "encoding": {"x": {"field": "d", "type": "quantitative", "title": null, "scale": {"domain": [101, 253], "nice": false, "zero": false}, "axis": {"values": [102,116,130,144,158,172,186,200,214,228,242], "labelExpr": "timeFormat(datetime(2009,0,datum.value),'%-m/%-d')", "labelFontSize": 4.5, "labelOverlap": false, "labelFlush": false}},
    "y": {"field": "v", "type": "quantitative", "title": null, "scale": {"type": "log", "domain": [0.001, 10], "nice": false}, "axis": {"values": [0.0001,0.001,0.01,0.1,1,10,100], "tickCount": 10, "format": "~g", "minExtent": 18, "maxExtent": 18}}},
   "layer": [
    {"transform": [{"filter": "datum.t=='c'"}], "mark": {"type": "line", "color": "#1b2a4a", "strokeWidth": 1.3, "clip": true}},
    {"transform": [{"filter": "datum.t=='d'"}], "mark": {"type": "point", "shape": "circle", "filled": true, "fill": "#e0202a", "stroke": "#3b0000", "strokeWidth": 0.6, "size": 16, "opacity": 1}},
    {"transform": [{"filter": "datum.t=='x'"}], "mark": {"type": "point", "shape": "M-1,-1L1,1M-1,1L1,-1", "filled": false, "stroke": "#111", "strokeWidth": 1.1, "size": 20, "opacity": 1}},
    {"transform": [{"filter": "datum.t=='n'"}], "mark": {"type": "text", "fontSize": 22, "color": "#8c8c8c", "font": "Liberation Sans", "baseline": "middle", "align": "center"}, "encoding": {"text": {"field": "lab"}}}
   ]},
  "resolve": {"axis": {"x": "independent", "y": "independent"}}}
]}
],
"config": {
 "view": {"stroke": "#a0a0a0"},
 "axis": {"grid": false, "labelFont": "Liberation Sans", "labelFontSize": 5, "labelColor": "#000", "tickSize": 2, "tickColor": "#000", "tickWidth": 0.8, "domainColor": "#000", "domainWidth": 1, "labelPadding": 1},
 "header": {"labelFont": "Noto Sans CJK JP", "labelFontSize": 5, "labelColor": "#000", "labelPadding": 1.5}
}
}
